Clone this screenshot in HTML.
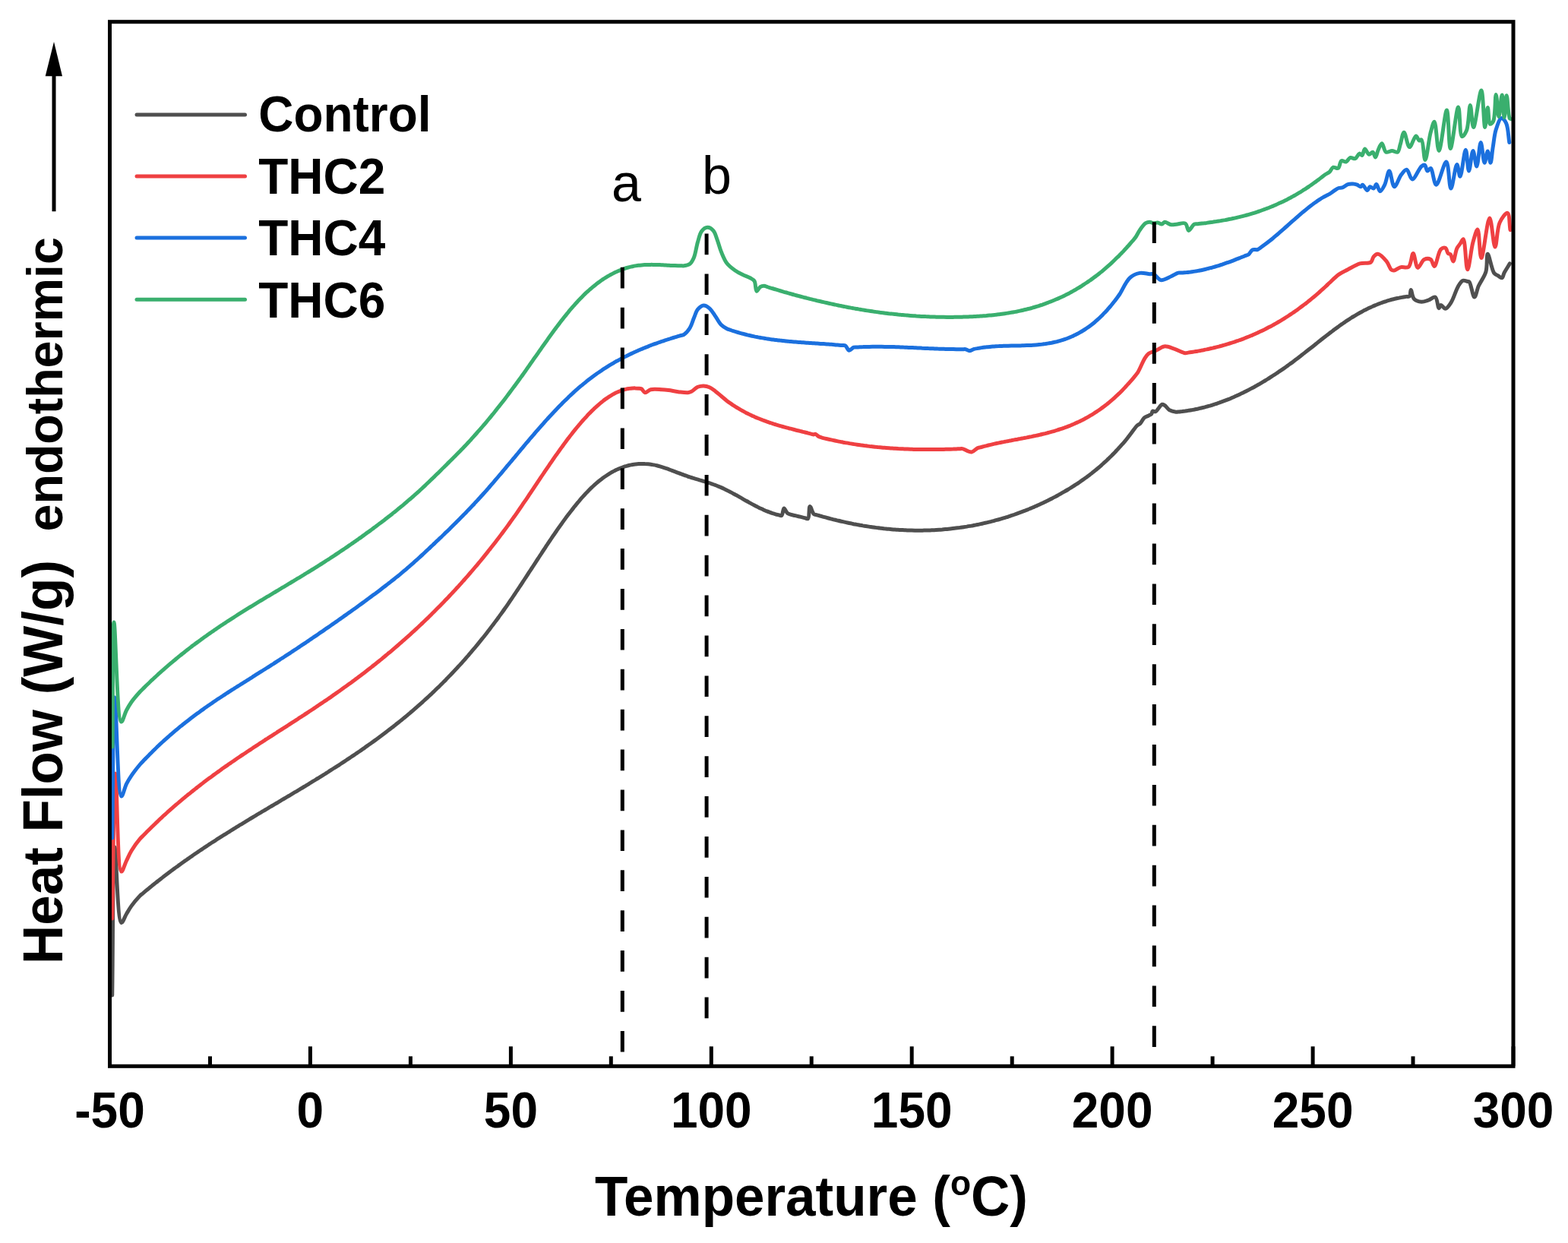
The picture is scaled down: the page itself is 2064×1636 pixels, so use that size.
<!DOCTYPE html>
<html><head><meta charset="utf-8"><title>DSC Heat Flow</title>
<style>html,body{margin:0;padding:0;background:#fff;overflow:hidden;width:2064px;height:1636px;}svg{display:block;}</style>
</head><body>
<svg width="2064" height="1636" viewBox="0 0 2064 1636">
<rect width="2064" height="1636" fill="#fff"/>
<g fill="none" stroke-linejoin="round" stroke-linecap="round" stroke-width="5.0">
<path stroke="#4f4f4f" d="M147.7 1310.0C148.8 1245.0 148.2 1115.1 151.0 1115.0C153.0 1114.9 154.4 1213.3 159.7 1214.5C161.6 1214.9 164.1 1206.7 166.4 1203.0C168.6 1199.4 170.4 1196.0 173.0 1192.4C176.1 1188.1 181.1 1182.1 184.0 1179.2C185.6 1177.6 186.7 1176.9 188.0 1175.8C189.3 1174.7 190.7 1173.5 192.0 1172.4C193.3 1171.3 194.7 1170.2 196.0 1169.2C197.3 1168.1 198.7 1167.0 200.0 1165.9C201.4 1164.8 202.7 1163.8 204.0 1162.7C205.4 1161.6 206.7 1160.6 208.0 1159.5C209.4 1158.5 210.7 1157.4 212.0 1156.4C213.4 1155.4 214.7 1154.3 216.0 1153.3C217.4 1152.3 218.7 1151.3 220.0 1150.3C221.4 1149.3 222.7 1148.2 224.0 1147.2C225.4 1146.2 226.7 1145.3 228.0 1144.3C229.4 1143.3 230.7 1142.3 232.1 1141.3C233.4 1140.4 234.7 1139.4 236.1 1138.4C237.4 1137.5 238.7 1136.5 240.1 1135.5C241.4 1134.6 242.7 1133.6 244.1 1132.7C245.4 1131.8 246.7 1130.8 248.1 1129.9C249.4 1128.9 250.7 1128.0 252.1 1127.1C253.4 1126.2 254.7 1125.3 256.1 1124.3C257.4 1123.4 258.7 1122.5 260.1 1121.6C261.4 1120.7 262.7 1119.8 264.1 1118.9C265.4 1118.0 266.8 1117.1 268.1 1116.2C269.4 1115.3 270.8 1114.5 272.1 1113.6C273.4 1112.7 274.8 1111.8 276.1 1110.9C277.4 1110.1 278.8 1109.2 280.1 1108.3C281.4 1107.5 282.8 1106.6 284.1 1105.8C285.4 1104.9 286.8 1104.0 288.1 1103.2C289.4 1102.3 290.8 1101.5 292.1 1100.6C293.4 1099.8 294.8 1099.0 296.1 1098.1C297.5 1097.3 298.8 1096.4 300.1 1095.6C301.5 1094.8 302.8 1093.9 304.1 1093.1C305.5 1092.3 306.8 1091.5 308.1 1090.6C309.5 1089.8 310.8 1089.0 312.1 1088.2C313.5 1087.4 314.8 1086.5 316.1 1085.7C317.5 1084.9 318.8 1084.1 320.1 1083.3C321.5 1082.5 322.8 1081.7 324.1 1080.9C325.5 1080.0 326.8 1079.2 328.2 1078.4C329.5 1077.6 330.8 1076.8 332.2 1076.0C333.5 1075.2 334.8 1074.4 336.2 1073.6C337.5 1072.8 338.8 1072.0 340.2 1071.2C341.5 1070.4 342.8 1069.6 344.2 1068.8C345.5 1068.1 346.8 1067.3 348.2 1066.5C349.5 1065.7 350.8 1064.9 352.2 1064.1C353.5 1063.3 354.8 1062.5 356.2 1061.7C357.5 1060.9 358.9 1060.1 360.2 1059.3C361.5 1058.5 362.9 1057.8 364.2 1057.0C365.5 1056.2 366.9 1055.4 368.2 1054.6C369.5 1053.8 370.9 1053.0 372.2 1052.2C373.5 1051.4 374.9 1050.6 376.2 1049.8C377.5 1049.0 378.9 1048.3 380.2 1047.5C381.5 1046.7 382.9 1045.9 384.2 1045.1C385.5 1044.3 386.9 1043.5 388.2 1042.7C389.6 1041.9 390.9 1041.1 392.2 1040.3C393.6 1039.5 394.9 1038.7 396.2 1037.9C397.6 1037.1 398.9 1036.3 400.2 1035.5C401.6 1034.7 402.9 1033.9 404.2 1033.1C405.6 1032.3 406.9 1031.4 408.2 1030.6C409.6 1029.8 410.9 1029.0 412.2 1028.2C413.6 1027.4 414.9 1026.6 416.2 1025.7C417.6 1024.9 418.9 1024.1 420.3 1023.3C421.6 1022.4 422.9 1021.6 424.3 1020.8C425.6 1020.0 426.9 1019.1 428.3 1018.3C429.6 1017.5 430.9 1016.6 432.3 1015.8C433.6 1014.9 434.9 1014.1 436.3 1013.2C437.6 1012.4 438.9 1011.5 440.3 1010.7C441.6 1009.8 442.9 1009.0 444.3 1008.1C445.6 1007.3 446.9 1006.4 448.3 1005.5C449.6 1004.7 451.0 1003.8 452.3 1002.9C453.6 1002.0 455.0 1001.2 456.3 1000.3C457.6 999.4 459.0 998.5 460.3 997.6C461.6 996.7 463.0 995.8 464.3 994.9C465.6 994.0 467.0 993.1 468.3 992.2C469.6 991.3 471.0 990.4 472.3 989.5C473.6 988.6 475.0 987.7 476.3 986.7C477.6 985.8 479.0 984.9 480.3 983.9C481.7 983.0 483.0 982.1 484.3 981.1C485.7 980.2 487.0 979.2 488.3 978.3C489.7 977.3 491.0 976.3 492.3 975.4C493.7 974.4 495.0 973.4 496.3 972.5C497.7 971.5 499.0 970.5 500.3 969.5C501.7 968.5 503.0 967.5 504.3 966.5C505.7 965.5 507.0 964.5 508.3 963.5C509.7 962.5 511.0 961.5 512.3 960.4C513.7 959.4 515.0 958.4 516.4 957.3C517.7 956.3 519.0 955.2 520.4 954.2C521.7 953.1 523.0 952.1 524.4 951.0C525.7 949.9 527.0 948.9 528.4 947.8C529.7 946.7 531.0 945.6 532.4 944.5C533.7 943.4 535.0 942.3 536.4 941.2C537.7 940.1 539.0 939.0 540.4 937.8C541.7 936.7 543.1 935.6 544.4 934.4C545.7 933.3 547.1 932.1 548.4 930.9C549.7 929.8 551.1 928.6 552.4 927.4C553.7 926.2 555.1 925.0 556.4 923.8C557.7 922.6 559.1 921.4 560.4 920.2C561.7 919.0 563.1 917.7 564.4 916.5C565.7 915.3 567.1 914.0 568.4 912.8C569.7 911.5 571.1 910.2 572.4 908.9C573.8 907.7 575.1 906.4 576.4 905.1C577.8 903.8 579.1 902.5 580.4 901.1C581.8 899.8 583.1 898.5 584.4 897.1C585.8 895.8 587.1 894.4 588.4 893.1C589.8 891.7 591.1 890.3 592.4 888.9C593.8 887.5 595.1 886.1 596.4 884.7C597.8 883.3 599.1 881.9 600.4 880.4C601.8 879.0 603.1 877.5 604.4 876.1C605.8 874.6 607.1 873.1 608.5 871.7C609.8 870.2 611.1 868.7 612.5 867.2C613.8 865.6 615.1 864.1 616.5 862.6C617.8 861.0 619.1 859.5 620.5 857.9C621.8 856.3 623.1 854.8 624.5 853.2C625.8 851.6 627.1 850.0 628.5 848.3C629.8 846.7 631.1 845.1 632.5 843.4C633.8 841.8 635.2 840.1 636.5 838.5C637.8 836.8 639.2 835.1 640.5 833.4C641.8 831.7 643.2 829.9 644.5 828.2C645.8 826.5 647.2 824.7 648.5 822.9C649.8 821.2 651.2 819.4 652.5 817.6C653.8 815.8 655.2 814.0 656.5 812.2C657.8 810.3 659.2 808.5 660.5 806.6C661.8 804.8 663.2 802.9 664.5 801.0C665.9 799.1 667.2 797.2 668.5 795.3C669.9 793.3 671.2 791.4 672.5 789.4C673.9 787.5 675.2 785.5 676.5 783.5C677.9 781.5 679.2 779.5 680.5 777.5C681.9 775.5 683.2 773.5 684.5 771.5C685.9 769.5 687.2 767.4 688.5 765.4C689.9 763.4 691.2 761.3 692.5 759.3C693.9 757.2 695.2 755.2 696.5 753.1C697.9 751.1 699.2 749.0 700.6 747.0C701.9 744.9 703.2 742.9 704.6 740.8C705.9 738.8 707.2 736.7 708.6 734.7C709.9 732.6 711.2 730.6 712.6 728.6C713.9 726.5 715.2 724.5 716.6 722.5C717.9 720.5 719.2 718.4 720.6 716.4C721.9 714.4 723.2 712.4 724.6 710.5C725.9 708.5 727.2 706.5 728.6 704.6C729.9 702.6 731.2 700.7 732.6 698.7C733.9 696.8 735.2 694.9 736.6 693.0C737.9 691.1 739.3 689.3 740.6 687.4C741.9 685.6 743.3 683.7 744.6 681.9C745.9 680.1 747.3 678.3 748.6 676.6C749.9 674.8 751.3 673.1 752.6 671.4C753.9 669.7 755.3 668.0 756.6 666.3C757.9 664.7 759.3 663.0 760.6 661.4C761.9 659.8 763.3 658.3 764.6 656.7C765.9 655.2 767.3 653.7 768.6 652.2C769.9 650.8 771.3 649.3 772.6 647.9C774.0 646.5 775.3 645.2 776.6 643.8C778.0 642.5 779.3 641.2 780.6 640.0C782.0 638.7 783.3 637.5 784.6 636.4C786.0 635.2 787.3 634.1 788.6 633.0C790.0 631.9 791.3 630.9 792.6 629.9C794.0 628.9 795.3 627.9 796.7 627.0C798.0 626.1 799.3 625.2 800.7 624.3C802.0 623.5 803.3 622.7 804.7 621.9C806.0 621.2 807.3 620.4 808.7 619.8C810.0 619.1 811.3 618.4 812.7 617.8C814.0 617.2 815.3 616.6 816.7 616.1C818.0 615.6 819.3 615.1 820.7 614.6C822.0 614.2 823.3 613.7 824.7 613.4C826.0 613.0 827.3 612.6 828.7 612.3C830.0 612.0 831.4 611.8 832.7 611.5C834.0 611.3 835.4 611.1 836.7 610.9C838.0 610.8 839.4 610.7 840.7 610.6C842.0 610.5 843.4 610.4 844.7 610.4C846.0 610.4 847.4 610.4 848.7 610.5C850.0 610.5 851.4 610.6 852.7 610.8C854.0 610.9 855.4 611.0 856.7 611.2C858.1 611.4 859.4 611.7 860.7 611.9C862.1 612.2 863.4 612.5 864.7 612.8C866.1 613.1 867.4 613.5 868.7 613.9C870.1 614.3 871.4 614.7 872.7 615.1C874.1 615.5 875.4 615.9 876.7 616.4C878.1 616.9 879.4 617.3 880.7 617.8C882.1 618.3 883.4 618.8 884.7 619.3C886.1 619.8 887.4 620.3 888.8 620.8C890.1 621.3 891.4 621.8 892.8 622.4C894.1 622.9 895.4 623.4 896.8 623.9C898.1 624.4 899.4 624.9 900.8 625.4C902.1 625.9 903.4 626.3 904.8 626.8C906.1 627.3 907.4 627.7 908.8 628.1C910.1 628.6 911.4 629.0 912.8 629.4C914.1 629.8 915.4 630.2 916.8 630.6C918.1 631.0 919.5 631.4 920.8 631.8C922.1 632.2 923.5 632.6 924.8 633.0C926.1 633.4 927.5 633.8 928.8 634.2C930.1 634.6 931.5 635.0 932.8 635.5C934.1 635.9 935.5 636.3 936.8 636.8C938.1 637.3 939.5 637.7 940.8 638.2C942.1 638.7 943.5 639.2 944.8 639.8C946.1 640.3 947.5 640.9 948.8 641.4C950.2 642.0 951.5 642.6 952.8 643.3C954.2 643.9 955.5 644.6 956.8 645.2C958.2 645.9 959.5 646.6 960.8 647.3C962.2 648.0 963.5 648.7 964.8 649.4C966.2 650.1 967.5 650.9 968.8 651.6C970.2 652.3 971.5 653.1 972.8 653.8C974.2 654.6 975.5 655.4 976.8 656.1C978.2 656.9 979.5 657.6 980.8 658.4C982.2 659.1 983.5 659.9 984.9 660.6C986.2 661.4 987.5 662.1 988.9 662.9C990.2 663.6 991.5 664.3 992.9 665.0C994.2 665.7 995.5 666.4 996.9 667.1C998.2 667.8 999.5 668.4 1000.9 669.1C1002.2 669.7 1003.5 670.3 1004.9 670.9C1006.2 671.5 1007.5 672.1 1008.9 672.7C1010.2 673.2 1011.5 673.7 1012.9 674.2C1014.2 674.7 1015.5 675.2 1016.9 675.6C1018.2 676.0 1019.6 676.4 1020.9 676.8C1022.2 677.2 1023.6 677.5 1024.9 677.8C1026.2 678.1 1027.8 679.1 1028.9 678.5C1030.6 677.5 1030.6 669.2 1032.0 669.0C1033.2 668.8 1034.4 673.8 1036.6 675.4C1039.2 677.3 1043.3 677.7 1046.9 678.7C1050.9 679.8 1056.7 681.1 1059.7 681.8C1061.4 682.2 1062.6 683.3 1063.6 682.6C1065.6 681.2 1064.6 666.6 1066.1 666.4C1067.4 666.2 1069.3 674.9 1071.3 676.6C1072.5 677.6 1074.0 677.4 1075.3 677.8C1076.7 678.2 1078.0 678.6 1079.4 679.0C1080.7 679.3 1082.0 679.7 1083.4 680.1C1084.7 680.5 1086.1 680.8 1087.4 681.2C1088.7 681.6 1090.1 681.9 1091.4 682.3C1092.8 682.6 1094.1 683.0 1095.5 683.3C1096.8 683.7 1098.1 684.0 1099.5 684.3C1100.8 684.6 1102.2 685.0 1103.5 685.3C1104.9 685.6 1106.2 685.9 1107.5 686.2C1108.9 686.5 1110.2 686.8 1111.6 687.1C1112.9 687.4 1114.2 687.7 1115.6 688.0C1116.9 688.3 1118.3 688.6 1119.6 688.8C1121.0 689.1 1122.3 689.4 1123.6 689.7C1125.0 689.9 1126.3 690.2 1127.7 690.4C1129.0 690.7 1130.4 690.9 1131.7 691.2C1133.0 691.4 1134.4 691.6 1135.7 691.9C1137.1 692.1 1138.4 692.3 1139.8 692.5C1141.1 692.7 1142.4 692.9 1143.8 693.1C1145.1 693.4 1146.5 693.5 1147.8 693.7C1149.1 693.9 1150.5 694.1 1151.8 694.3C1153.2 694.5 1154.5 694.7 1155.9 694.8C1157.2 695.0 1158.5 695.1 1159.9 695.3C1161.2 695.5 1162.6 695.6 1163.9 695.8C1165.3 695.9 1166.6 696.0 1167.9 696.2C1169.3 696.3 1170.6 696.4 1172.0 696.5C1173.3 696.7 1174.6 696.8 1176.0 696.9C1177.3 697.0 1178.7 697.1 1180.0 697.2C1181.4 697.3 1182.7 697.3 1184.0 697.4C1185.4 697.5 1186.7 697.6 1188.1 697.6C1189.4 697.7 1190.8 697.8 1192.1 697.8C1193.4 697.9 1194.8 697.9 1196.1 698.0C1197.5 698.0 1198.8 698.1 1200.1 698.1C1201.5 698.1 1202.8 698.1 1204.2 698.2C1205.5 698.2 1206.9 698.2 1208.2 698.2C1209.5 698.2 1210.9 698.2 1212.2 698.2C1213.6 698.2 1214.9 698.1 1216.3 698.1C1217.6 698.1 1218.9 698.1 1220.3 698.0C1221.6 698.0 1223.0 697.9 1224.3 697.9C1225.6 697.8 1227.0 697.8 1228.3 697.7C1229.7 697.7 1231.0 697.6 1232.4 697.5C1233.7 697.4 1235.0 697.3 1236.4 697.2C1237.7 697.2 1239.1 697.1 1240.4 697.0C1241.8 696.8 1243.1 696.7 1244.4 696.6C1245.8 696.5 1247.1 696.4 1248.5 696.2C1249.8 696.1 1251.1 696.0 1252.5 695.8C1253.8 695.7 1255.2 695.5 1256.5 695.3C1257.9 695.2 1259.2 695.0 1260.5 694.8C1261.9 694.7 1263.2 694.5 1264.6 694.3C1265.9 694.1 1267.3 693.9 1268.6 693.7C1269.9 693.5 1271.3 693.3 1272.6 693.1C1274.0 692.8 1275.3 692.6 1276.7 692.4C1278.0 692.2 1279.3 691.9 1280.7 691.7C1282.0 691.4 1283.4 691.2 1284.7 690.9C1286.0 690.6 1287.4 690.4 1288.7 690.1C1290.1 689.8 1291.4 689.5 1292.8 689.2C1294.1 688.9 1295.4 688.6 1296.8 688.3C1298.1 688.0 1299.5 687.7 1300.8 687.4C1302.2 687.1 1303.5 686.7 1304.8 686.4C1306.2 686.0 1307.5 685.7 1308.9 685.3C1310.2 685.0 1311.5 684.6 1312.9 684.2C1314.2 683.9 1315.6 683.5 1316.9 683.1C1318.3 682.7 1319.6 682.3 1320.9 681.9C1322.3 681.5 1323.6 681.1 1325.0 680.7C1326.3 680.3 1327.7 679.8 1329.0 679.4C1330.3 678.9 1331.7 678.5 1333.0 678.0C1334.4 677.6 1335.7 677.1 1337.0 676.7C1338.4 676.2 1339.7 675.7 1341.1 675.2C1342.4 674.7 1343.8 674.2 1345.1 673.7C1346.4 673.2 1347.8 672.7 1349.1 672.2C1350.5 671.6 1351.8 671.1 1353.2 670.6C1354.5 670.0 1355.8 669.5 1357.2 668.9C1358.5 668.3 1359.9 667.8 1361.2 667.2C1362.5 666.6 1363.9 666.0 1365.2 665.4C1366.6 664.8 1367.9 664.2 1369.3 663.6C1370.6 663.0 1371.9 662.3 1373.3 661.7C1374.6 661.0 1376.0 660.4 1377.3 659.7C1378.7 659.1 1380.0 658.4 1381.3 657.7C1382.7 657.1 1384.0 656.4 1385.4 655.7C1386.7 655.0 1388.1 654.3 1389.4 653.6C1390.7 652.8 1392.1 652.1 1393.4 651.4C1394.8 650.6 1396.1 649.9 1397.4 649.1C1398.8 648.4 1400.1 647.6 1401.5 646.8C1402.8 646.1 1404.2 645.3 1405.5 644.5C1406.8 643.7 1408.2 642.8 1409.5 642.0C1410.9 641.2 1412.2 640.3 1413.5 639.5C1414.9 638.6 1416.2 637.8 1417.6 636.9C1418.9 636.0 1420.3 635.1 1421.6 634.2C1422.9 633.2 1424.3 632.3 1425.6 631.4C1427.0 630.4 1428.3 629.4 1429.7 628.5C1431.0 627.5 1432.3 626.5 1433.7 625.5C1435.0 624.4 1436.4 623.4 1437.7 622.3C1439.1 621.3 1440.4 620.2 1441.7 619.1C1443.1 618.0 1444.4 616.9 1445.8 615.8C1447.1 614.6 1448.5 613.5 1449.8 612.3C1451.1 611.1 1452.5 609.9 1453.8 608.7C1455.2 607.4 1456.5 606.2 1457.8 604.9C1459.2 603.6 1460.5 602.3 1461.9 601.0C1463.2 599.7 1464.6 598.4 1465.9 597.0C1467.2 595.6 1468.6 594.2 1469.9 592.8C1471.3 591.4 1472.6 589.9 1473.9 588.4C1475.3 587.0 1476.6 585.5 1478.0 583.9C1479.3 582.4 1480.5 581.1 1482.0 579.2C1484.1 576.6 1486.9 572.9 1489.3 569.7C1491.8 566.5 1494.4 562.4 1496.7 560.2C1498.2 558.8 1499.7 558.6 1501.1 557.2C1502.9 555.4 1504.2 551.6 1506.2 549.9C1507.9 548.4 1510.3 547.9 1512.0 547.0C1513.4 546.2 1514.9 545.8 1515.8 544.8C1516.6 543.8 1516.3 541.6 1517.2 541.1C1518.0 540.6 1519.5 542.2 1520.9 541.8C1523.4 541.0 1527.2 532.9 1529.7 532.3C1531.1 532.0 1532.1 532.9 1533.4 533.7C1535.2 534.9 1536.9 538.2 1539.2 539.6C1541.7 541.1 1545.6 541.9 1548.0 542.2C1549.6 542.4 1550.7 542.0 1552.0 541.9C1553.4 541.8 1554.7 541.6 1556.1 541.5C1557.4 541.3 1558.8 541.1 1560.1 541.0C1561.5 540.8 1562.8 540.6 1564.2 540.4C1565.5 540.2 1566.9 540.0 1568.2 539.7C1569.6 539.5 1570.9 539.2 1572.3 539.0C1573.6 538.7 1575.0 538.4 1576.3 538.2C1577.7 537.9 1579.0 537.6 1580.4 537.2C1581.7 536.9 1583.1 536.6 1584.4 536.3C1585.8 535.9 1587.1 535.6 1588.4 535.2C1589.8 534.8 1591.1 534.4 1592.5 534.1C1593.8 533.7 1595.2 533.3 1596.5 532.8C1597.9 532.4 1599.2 532.0 1600.6 531.5C1601.9 531.1 1603.3 530.6 1604.6 530.2C1606.0 529.7 1607.3 529.2 1608.7 528.7C1610.0 528.2 1611.4 527.7 1612.7 527.2C1614.1 526.7 1615.4 526.2 1616.8 525.6C1618.1 525.1 1619.5 524.5 1620.8 523.9C1622.2 523.4 1623.5 522.8 1624.8 522.2C1626.2 521.6 1627.5 521.0 1628.9 520.4C1630.2 519.8 1631.6 519.1 1632.9 518.5C1634.3 517.9 1635.6 517.2 1637.0 516.6C1638.3 515.9 1639.7 515.2 1641.0 514.5C1642.4 513.8 1643.7 513.2 1645.1 512.4C1646.4 511.7 1647.8 511.0 1649.1 510.3C1650.5 509.6 1651.8 508.8 1653.2 508.1C1654.5 507.3 1655.9 506.5 1657.2 505.8C1658.6 505.0 1659.9 504.2 1661.3 503.4C1662.6 502.6 1664.0 501.8 1665.3 501.0C1666.6 500.2 1668.0 499.3 1669.3 498.5C1670.7 497.7 1672.0 496.8 1673.4 495.9C1674.7 495.1 1676.1 494.2 1677.4 493.3C1678.8 492.4 1680.1 491.6 1681.5 490.7C1682.8 489.7 1684.2 488.8 1685.5 487.9C1686.9 487.0 1688.2 486.1 1689.6 485.1C1690.9 484.2 1692.3 483.2 1693.6 482.3C1695.0 481.3 1696.3 480.3 1697.7 479.3C1699.0 478.3 1700.4 477.4 1701.7 476.4C1703.1 475.3 1704.4 474.3 1705.7 473.3C1707.1 472.3 1708.4 471.3 1709.8 470.2C1711.1 469.2 1712.5 468.1 1713.8 467.1C1715.2 466.1 1716.5 465.0 1717.9 463.9C1719.2 462.9 1720.6 461.8 1721.9 460.8C1723.3 459.7 1724.6 458.6 1726.0 457.6C1727.3 456.5 1728.7 455.4 1730.0 454.4C1731.4 453.3 1732.7 452.2 1734.1 451.1C1735.4 450.1 1736.8 449.0 1738.1 448.0C1739.5 446.9 1740.8 445.8 1742.1 444.8C1743.5 443.7 1744.8 442.7 1746.2 441.6C1747.5 440.6 1748.9 439.6 1750.2 438.5C1751.6 437.5 1752.9 436.5 1754.3 435.5C1755.6 434.4 1757.0 433.4 1758.3 432.4C1759.7 431.5 1761.0 430.5 1762.4 429.5C1763.7 428.5 1765.1 427.6 1766.4 426.6C1767.8 425.7 1769.1 424.7 1770.5 423.8C1771.8 422.9 1773.2 422.0 1774.5 421.1C1775.8 420.2 1777.2 419.4 1778.5 418.5C1779.9 417.6 1781.2 416.8 1782.6 416.0C1783.9 415.2 1785.3 414.4 1786.6 413.6C1788.0 412.8 1789.3 412.1 1790.7 411.3C1792.0 410.6 1793.4 409.8 1794.7 409.1C1796.1 408.4 1797.4 407.7 1798.8 407.1C1800.1 406.4 1801.5 405.7 1802.8 405.1C1804.2 404.5 1805.5 403.9 1806.9 403.3C1808.2 402.7 1809.6 402.1 1810.9 401.5C1812.3 401.0 1813.6 400.4 1815.0 399.9C1816.3 399.4 1817.6 398.9 1819.0 398.4C1820.3 397.9 1821.7 397.4 1823.0 397.0C1824.4 396.6 1825.7 396.1 1827.1 395.7C1828.4 395.3 1829.8 394.9 1831.1 394.5C1832.5 394.2 1833.8 393.8 1835.2 393.5C1836.5 393.2 1837.9 392.8 1839.2 392.5C1840.6 392.3 1841.9 392.0 1843.3 391.7C1844.6 391.5 1846.0 391.2 1847.3 391.0C1848.7 390.8 1850.0 390.6 1851.4 390.4C1852.7 390.2 1854.4 390.8 1855.4 389.9C1856.8 388.6 1856.4 381.5 1857.2 381.4C1858.2 381.3 1858.8 390.9 1861.4 393.5C1863.7 395.9 1867.8 397.0 1871.1 397.2C1874.3 397.4 1877.7 395.8 1880.8 394.8C1883.8 393.8 1887.2 390.1 1889.3 391.1C1892.1 392.3 1892.6 405.5 1894.1 405.7C1895.0 405.8 1895.4 401.6 1896.6 401.4C1898.1 401.1 1900.6 406.4 1902.6 406.3C1905.0 406.1 1907.6 401.9 1909.9 398.4C1913.4 393.1 1916.4 381.8 1919.6 376.6C1921.6 373.3 1923.3 370.1 1925.6 369.3C1927.4 368.6 1930.1 370.2 1931.7 370.5C1932.7 370.7 1933.3 370.4 1934.1 371.1C1936.4 373.2 1938.6 391.1 1940.8 391.1C1942.7 391.1 1944.0 381.7 1946.2 376.6C1948.8 370.7 1953.9 364.6 1955.9 357.8C1958.0 350.6 1956.6 334.4 1958.3 334.2C1960.1 334.0 1963.5 355.4 1966.8 359.6C1968.3 361.6 1970.0 361.7 1971.7 362.7C1973.4 363.7 1975.7 366.2 1977.1 365.7C1978.6 365.2 1978.8 361.5 1980.1 359.0C1981.9 355.5 1985.0 350.9 1987.4 346.9"/>
<path stroke="#ef4042" d="M147.7 1209.0C149.1 1145.3 149.6 1018.0 152.0 1018.0C153.9 1018.0 154.3 1145.9 159.7 1147.0C161.6 1147.4 164.2 1137.6 166.4 1133.0C168.6 1128.5 170.3 1124.3 173.0 1119.8C176.0 1114.7 181.1 1107.8 184.0 1104.4C185.6 1102.5 186.7 1101.6 188.0 1100.2C189.3 1098.9 190.7 1097.5 192.0 1096.2C193.3 1094.8 194.7 1093.5 196.0 1092.2C197.3 1090.9 198.7 1089.5 200.0 1088.2C201.3 1086.9 202.7 1085.7 204.0 1084.4C205.3 1083.1 206.7 1081.8 208.0 1080.6C209.3 1079.3 210.7 1078.1 212.0 1076.8C213.3 1075.6 214.7 1074.4 216.0 1073.1C217.3 1071.9 218.7 1070.7 220.0 1069.5C221.3 1068.3 222.7 1067.1 224.0 1065.9C225.3 1064.7 226.7 1063.6 228.0 1062.4C229.4 1061.2 230.7 1060.1 232.0 1058.9C233.4 1057.8 234.7 1056.7 236.0 1055.5C237.4 1054.4 238.7 1053.3 240.0 1052.2C241.4 1051.0 242.7 1049.9 244.0 1048.8C245.4 1047.7 246.7 1046.6 248.0 1045.6C249.4 1044.5 250.7 1043.4 252.0 1042.3C253.4 1041.3 254.7 1040.2 256.0 1039.2C257.4 1038.1 258.7 1037.1 260.0 1036.0C261.4 1035.0 262.7 1033.9 264.0 1032.9C265.4 1031.9 266.7 1030.9 268.0 1029.8C269.4 1028.8 270.7 1027.8 272.0 1026.8C273.4 1025.8 274.7 1024.8 276.0 1023.8C277.4 1022.9 278.7 1021.9 280.0 1020.9C281.4 1019.9 282.7 1018.9 284.0 1018.0C285.4 1017.0 286.7 1016.0 288.0 1015.1C289.4 1014.1 290.7 1013.2 292.0 1012.2C293.4 1011.3 294.7 1010.3 296.1 1009.4C297.4 1008.5 298.7 1007.5 300.1 1006.6C301.4 1005.7 302.7 1004.7 304.1 1003.8C305.4 1002.9 306.7 1002.0 308.1 1001.1C309.4 1000.2 310.7 999.3 312.1 998.3C313.4 997.4 314.7 996.5 316.1 995.6C317.4 994.7 318.7 993.8 320.1 993.0C321.4 992.1 322.7 991.2 324.1 990.3C325.4 989.4 326.7 988.5 328.1 987.6C329.4 986.8 330.7 985.9 332.1 985.0C333.4 984.1 334.7 983.2 336.1 982.4C337.4 981.5 338.7 980.6 340.1 979.8C341.4 978.9 342.7 978.0 344.1 977.2C345.4 976.3 346.7 975.4 348.1 974.6C349.4 973.7 350.7 972.9 352.1 972.0C353.4 971.1 354.7 970.3 356.1 969.4C357.4 968.6 358.7 967.7 360.1 966.8C361.4 966.0 362.7 965.1 364.1 964.3C365.4 963.4 366.7 962.6 368.1 961.7C369.4 960.9 370.8 960.0 372.1 959.1C373.4 958.3 374.8 957.4 376.1 956.6C377.4 955.7 378.8 954.9 380.1 954.0C381.4 953.2 382.8 952.3 384.1 951.4C385.4 950.6 386.8 949.7 388.1 948.9C389.4 948.0 390.8 947.1 392.1 946.3C393.4 945.4 394.8 944.5 396.1 943.7C397.4 942.8 398.8 941.9 400.1 941.1C401.4 940.2 402.8 939.3 404.1 938.5C405.4 937.6 406.8 936.7 408.1 935.8C409.4 934.9 410.8 934.1 412.1 933.2C413.4 932.3 414.8 931.4 416.1 930.5C417.4 929.6 418.8 928.7 420.1 927.8C421.4 926.9 422.8 926.0 424.1 925.1C425.4 924.2 426.8 923.3 428.1 922.4C429.4 921.5 430.8 920.6 432.1 919.7C433.4 918.8 434.8 917.9 436.1 916.9C437.4 916.0 438.8 915.1 440.1 914.1C441.5 913.2 442.8 912.3 444.1 911.3C445.5 910.4 446.8 909.4 448.1 908.5C449.5 907.6 450.8 906.6 452.1 905.6C453.5 904.7 454.8 903.7 456.1 902.8C457.5 901.8 458.8 900.8 460.1 899.8C461.5 898.9 462.8 897.9 464.1 896.9C465.5 895.9 466.8 894.9 468.1 893.9C469.5 892.9 470.8 891.9 472.1 890.9C473.5 889.9 474.8 888.9 476.1 887.9C477.5 886.9 478.8 885.9 480.1 884.9C481.5 883.8 482.8 882.8 484.1 881.8C485.5 880.7 486.8 879.7 488.1 878.7C489.5 877.6 490.8 876.6 492.1 875.5C493.5 874.4 494.8 873.4 496.1 872.3C497.5 871.2 498.8 870.2 500.1 869.1C501.5 868.0 502.8 866.9 504.1 865.8C505.5 864.7 506.8 863.6 508.1 862.5C509.5 861.4 510.8 860.3 512.1 859.2C513.5 858.1 514.8 857.0 516.2 855.8C517.5 854.7 518.8 853.6 520.2 852.4C521.5 851.3 522.8 850.2 524.2 849.0C525.5 847.8 526.8 846.7 528.2 845.5C529.5 844.3 530.8 843.2 532.2 842.0C533.5 840.8 534.8 839.6 536.2 838.4C537.5 837.2 538.8 836.0 540.2 834.8C541.5 833.6 542.8 832.4 544.2 831.2C545.5 829.9 546.8 828.7 548.2 827.5C549.5 826.2 550.8 825.0 552.2 823.7C553.5 822.5 554.8 821.2 556.2 820.0C557.5 818.7 558.8 817.4 560.2 816.1C561.5 814.8 562.8 813.6 564.2 812.3C565.5 811.0 566.8 809.6 568.2 808.3C569.5 807.0 570.8 805.7 572.2 804.4C573.5 803.0 574.8 801.7 576.2 800.3C577.5 799.0 578.8 797.6 580.2 796.3C581.5 794.9 582.9 793.5 584.2 792.2C585.5 790.8 586.9 789.4 588.2 788.0C589.5 786.6 590.9 785.2 592.2 783.8C593.5 782.4 594.9 780.9 596.2 779.5C597.5 778.1 598.9 776.6 600.2 775.2C601.5 773.7 602.9 772.3 604.2 770.8C605.5 769.3 606.9 767.8 608.2 766.3C609.5 764.9 610.9 763.4 612.2 761.8C613.5 760.3 614.9 758.8 616.2 757.3C617.5 755.8 618.9 754.2 620.2 752.7C621.5 751.1 622.9 749.6 624.2 748.0C625.5 746.4 626.9 744.9 628.2 743.3C629.5 741.7 630.9 740.1 632.2 738.5C633.5 736.8 634.9 735.2 636.2 733.6C637.5 732.0 638.9 730.3 640.2 728.7C641.5 727.0 642.9 725.3 644.2 723.6C645.5 722.0 646.9 720.3 648.2 718.6C649.5 716.9 650.9 715.1 652.2 713.4C653.5 711.7 654.9 709.9 656.2 708.2C657.6 706.4 658.9 704.7 660.2 702.9C661.6 701.1 662.9 699.3 664.2 697.5C665.6 695.7 666.9 693.9 668.2 692.1C669.6 690.2 670.9 688.4 672.2 686.5C673.6 684.7 674.9 682.8 676.2 680.9C677.6 679.1 678.9 677.2 680.2 675.3C681.6 673.3 682.9 671.4 684.2 669.5C685.6 667.5 686.9 665.6 688.2 663.6C689.6 661.7 690.9 659.7 692.2 657.8C693.6 655.8 694.9 653.8 696.2 651.8C697.6 649.8 698.9 647.9 700.2 645.9C701.6 643.9 702.9 641.9 704.2 639.9C705.6 637.9 706.9 635.9 708.2 633.9C709.6 631.9 710.9 629.9 712.2 627.9C713.6 625.9 714.9 624.0 716.2 622.0C717.6 620.0 718.9 618.0 720.2 616.1C721.6 614.1 722.9 612.1 724.2 610.2C725.6 608.3 726.9 606.3 728.2 604.4C729.6 602.5 730.9 600.6 732.2 598.7C733.6 596.8 734.9 594.9 736.3 593.0C737.6 591.1 738.9 589.3 740.3 587.5C741.6 585.6 742.9 583.8 744.3 582.0C745.6 580.2 746.9 578.4 748.3 576.7C749.6 574.9 750.9 573.2 752.3 571.5C753.6 569.8 754.9 568.1 756.3 566.4C757.6 564.8 758.9 563.2 760.3 561.5C761.6 559.9 762.9 558.4 764.3 556.8C765.6 555.3 766.9 553.7 768.3 552.2C769.6 550.8 770.9 549.3 772.3 547.9C773.6 546.4 774.9 545.0 776.3 543.7C777.6 542.3 778.9 541.0 780.3 539.7C781.6 538.4 782.9 537.1 784.3 535.9C785.6 534.7 786.9 533.5 788.3 532.3C789.6 531.2 790.9 530.1 792.3 529.0C793.6 528.0 794.9 526.9 796.3 525.9C797.6 525.0 798.9 524.0 800.3 523.1C801.6 522.2 802.9 521.4 804.3 520.6C805.6 519.8 806.9 519.0 808.3 518.3C809.6 517.6 810.9 516.9 812.3 516.3C813.6 515.7 814.9 515.1 816.3 514.6C817.6 514.1 818.9 513.6 820.3 513.2C821.6 512.8 823.0 512.4 824.3 512.1C825.6 511.8 827.0 511.6 828.3 511.4C829.6 511.2 831.0 511.0 832.3 510.9C833.6 510.9 835.0 510.8 836.3 510.9C837.6 510.9 839.0 511.0 840.3 511.2C841.6 511.3 843.0 511.1 844.3 511.8C846.0 512.7 847.2 516.4 849.1 516.7C851.2 517.0 853.5 513.5 856.5 512.8C860.5 511.8 866.8 512.6 871.1 512.8C874.4 512.9 876.8 513.2 880.0 513.6C883.9 514.1 888.5 515.2 892.8 515.7C897.1 516.2 902.4 517.1 905.7 516.7C907.8 516.4 909.0 515.8 910.8 514.9C913.2 513.6 915.8 510.4 918.5 509.3C921.0 508.3 923.6 507.9 926.2 508.0C928.8 508.1 931.4 508.7 933.9 509.8C936.6 511.0 939.1 513.0 941.6 514.9C944.2 516.8 946.7 519.2 949.3 521.3C951.9 523.4 954.8 526.0 957.0 527.7C958.5 528.9 959.7 529.7 961.1 530.6C962.4 531.6 963.8 532.5 965.1 533.4C966.5 534.2 967.9 535.1 969.2 536.0C970.6 536.8 971.9 537.6 973.3 538.4C974.6 539.2 976.0 540.0 977.4 540.7C978.7 541.5 980.1 542.2 981.4 542.9C982.8 543.6 984.1 544.3 985.5 545.0C986.9 545.6 988.2 546.3 989.6 546.9C990.9 547.5 992.3 548.2 993.6 548.8C995.0 549.3 996.4 549.9 997.7 550.5C999.1 551.0 1000.4 551.6 1001.8 552.1C1003.1 552.7 1004.5 553.2 1005.9 553.7C1007.2 554.2 1008.6 554.7 1009.9 555.1C1011.3 555.6 1012.6 556.1 1014.0 556.5C1015.4 557.0 1016.7 557.4 1018.1 557.9C1019.4 558.3 1020.8 558.7 1022.1 559.1C1023.5 559.5 1024.9 559.9 1026.2 560.3C1027.6 560.7 1028.9 561.1 1030.3 561.5C1031.6 561.9 1033.0 562.2 1034.4 562.6C1035.7 563.0 1037.1 563.3 1038.4 563.7C1039.8 564.0 1041.1 564.4 1042.5 564.7C1043.9 565.1 1045.2 565.4 1046.6 565.8C1047.9 566.1 1049.3 566.4 1050.6 566.8C1052.0 567.1 1053.4 567.5 1054.7 567.8C1056.1 568.1 1057.4 568.5 1058.8 568.8C1060.1 569.1 1061.5 569.5 1062.9 569.8C1064.2 570.2 1065.6 570.5 1066.9 570.9C1068.3 571.2 1069.9 571.9 1071.0 571.9C1071.8 571.9 1072.4 571.1 1073.2 571.2C1074.5 571.4 1076.1 573.7 1077.6 574.5C1079.0 575.3 1080.6 575.7 1082.0 576.1C1083.4 576.5 1084.7 576.8 1086.0 577.1C1087.4 577.4 1088.7 577.7 1090.0 578.0C1091.4 578.3 1092.7 578.6 1094.1 578.9C1095.4 579.2 1096.7 579.5 1098.1 579.8C1099.4 580.1 1100.7 580.4 1102.1 580.6C1103.4 580.9 1104.8 581.2 1106.1 581.4C1107.4 581.7 1108.8 581.9 1110.1 582.2C1111.5 582.4 1112.8 582.7 1114.1 582.9C1115.5 583.2 1116.8 583.4 1118.2 583.6C1119.5 583.8 1120.8 584.1 1122.2 584.3C1123.5 584.5 1124.9 584.7 1126.2 584.9C1127.5 585.1 1128.9 585.3 1130.2 585.5C1131.5 585.7 1132.9 585.9 1134.2 586.1C1135.6 586.2 1136.9 586.4 1138.2 586.6C1139.6 586.8 1140.9 586.9 1142.3 587.1C1143.6 587.3 1144.9 587.4 1146.3 587.6C1147.6 587.7 1149.0 587.9 1150.3 588.0C1151.6 588.2 1153.0 588.3 1154.3 588.4C1155.7 588.6 1157.0 588.7 1158.3 588.8C1159.7 588.9 1161.0 589.1 1162.3 589.2C1163.7 589.3 1165.0 589.4 1166.4 589.5C1167.7 589.6 1169.0 589.7 1170.4 589.8C1171.7 589.9 1173.1 590.0 1174.4 590.1C1175.7 590.2 1177.1 590.3 1178.4 590.3C1179.8 590.4 1181.1 590.5 1182.4 590.6C1183.8 590.6 1185.1 590.7 1186.5 590.8C1187.8 590.8 1189.1 590.9 1190.5 590.9C1191.8 591.0 1193.1 591.1 1194.5 591.1C1195.8 591.2 1197.2 591.2 1198.5 591.2C1199.8 591.3 1201.2 591.3 1202.5 591.4C1203.9 591.4 1205.2 591.4 1206.5 591.4C1207.9 591.5 1209.2 591.5 1210.6 591.5C1211.9 591.5 1213.2 591.5 1214.6 591.6C1215.9 591.6 1217.3 591.6 1218.6 591.6C1219.9 591.6 1221.3 591.6 1222.6 591.6C1223.9 591.6 1225.3 591.6 1226.6 591.6C1228.0 591.6 1229.3 591.6 1230.6 591.6C1232.0 591.6 1233.3 591.5 1234.7 591.5C1236.0 591.5 1237.3 591.5 1238.7 591.5C1240.0 591.4 1241.4 591.4 1242.7 591.4C1244.0 591.4 1245.4 591.3 1246.7 591.3C1248.1 591.3 1249.4 591.2 1250.7 591.2C1252.1 591.1 1253.4 591.1 1254.7 591.1C1256.1 591.0 1257.4 591.0 1258.8 590.9C1260.1 590.9 1261.4 590.8 1262.8 590.8C1264.1 590.7 1265.1 590.3 1266.8 590.6C1269.8 591.1 1275.4 595.4 1278.9 595.0C1281.9 594.6 1284.4 590.9 1286.6 589.9C1288.1 589.2 1289.3 589.1 1290.7 588.7C1292.0 588.4 1293.4 588.0 1294.7 587.6C1296.1 587.3 1297.4 586.9 1298.8 586.6C1300.1 586.2 1301.5 585.9 1302.8 585.6C1304.2 585.3 1305.5 585.0 1306.9 584.6C1308.2 584.3 1309.6 584.0 1310.9 583.7C1312.3 583.4 1313.6 583.2 1315.0 582.9C1316.3 582.6 1317.7 582.3 1319.0 582.0C1320.4 581.8 1321.7 581.5 1323.1 581.2C1324.4 581.0 1325.8 580.7 1327.1 580.5C1328.5 580.2 1329.8 579.9 1331.2 579.7C1332.5 579.4 1333.9 579.2 1335.2 578.9C1336.6 578.7 1337.9 578.4 1339.3 578.2C1340.7 577.9 1342.0 577.7 1343.4 577.4C1344.7 577.1 1346.1 576.9 1347.4 576.6C1348.8 576.4 1350.1 576.1 1351.5 575.9C1352.8 575.6 1354.2 575.3 1355.5 575.0C1356.9 574.8 1358.2 574.5 1359.6 574.2C1360.9 573.9 1362.3 573.7 1363.6 573.4C1365.0 573.1 1366.3 572.8 1367.7 572.5C1369.0 572.2 1370.4 571.9 1371.7 571.5C1373.1 571.2 1374.4 570.9 1375.8 570.6C1377.1 570.2 1378.5 569.9 1379.8 569.5C1381.2 569.2 1382.5 568.8 1383.9 568.4C1385.2 568.0 1386.6 567.7 1387.9 567.3C1389.3 566.9 1390.7 566.5 1392.0 566.0C1393.4 565.6 1394.7 565.2 1396.1 564.7C1397.4 564.3 1398.8 563.8 1400.1 563.3C1401.5 562.9 1402.8 562.4 1404.2 561.9C1405.5 561.3 1406.9 560.8 1408.2 560.3C1409.6 559.7 1410.9 559.2 1412.3 558.6C1413.6 558.0 1415.0 557.5 1416.3 556.8C1417.7 556.2 1419.0 555.6 1420.4 555.0C1421.7 554.3 1423.1 553.6 1424.4 553.0C1425.8 552.3 1427.1 551.6 1428.5 550.8C1429.8 550.1 1431.2 549.4 1432.5 548.6C1433.9 547.8 1435.2 547.0 1436.6 546.2C1437.9 545.4 1439.3 544.6 1440.6 543.7C1442.0 542.8 1443.4 541.9 1444.7 541.0C1446.1 540.1 1447.4 539.2 1448.8 538.2C1450.1 537.3 1451.5 536.3 1452.8 535.3C1454.2 534.2 1455.5 533.2 1456.9 532.1C1458.2 531.0 1459.6 529.9 1460.9 528.8C1462.3 527.7 1463.6 526.5 1465.0 525.4C1466.3 524.2 1467.7 522.9 1469.0 521.7C1470.4 520.5 1471.7 519.2 1473.1 517.9C1474.4 516.6 1475.8 515.2 1477.1 513.9C1478.5 512.5 1479.8 511.1 1481.2 509.6C1482.5 508.2 1483.9 506.7 1485.2 505.2C1486.6 503.7 1487.9 502.2 1489.3 500.6C1490.7 499.0 1492.0 497.4 1493.3 495.8C1494.7 494.1 1495.9 493.0 1497.4 490.7C1500.2 486.4 1504.3 475.6 1507.2 471.1C1508.9 468.4 1509.9 466.8 1512.1 465.2C1514.6 463.4 1518.6 462.8 1521.9 461.3C1525.4 459.7 1528.7 456.3 1532.6 455.9C1536.8 455.4 1541.8 457.9 1546.3 459.3C1550.9 460.8 1556.7 464.3 1560.0 464.7C1561.7 464.9 1562.7 464.3 1564.0 464.1C1565.4 463.9 1566.7 463.7 1568.1 463.5C1569.4 463.3 1570.8 463.1 1572.1 462.9C1573.5 462.7 1574.8 462.4 1576.2 462.2C1577.5 462.0 1578.9 461.7 1580.2 461.5C1581.6 461.2 1582.9 460.9 1584.3 460.7C1585.6 460.4 1587.0 460.1 1588.3 459.9C1589.6 459.6 1591.0 459.3 1592.3 459.0C1593.7 458.7 1595.0 458.4 1596.4 458.1C1597.7 457.7 1599.1 457.4 1600.4 457.1C1601.8 456.7 1603.1 456.4 1604.5 456.1C1605.8 455.7 1607.2 455.3 1608.5 455.0C1609.9 454.6 1611.2 454.2 1612.6 453.8C1613.9 453.4 1615.2 453.0 1616.6 452.6C1617.9 452.2 1619.3 451.8 1620.6 451.4C1622.0 451.0 1623.3 450.5 1624.7 450.1C1626.0 449.6 1627.4 449.2 1628.7 448.7C1630.1 448.2 1631.4 447.8 1632.8 447.3C1634.1 446.8 1635.5 446.3 1636.8 445.8C1638.2 445.3 1639.5 444.7 1640.9 444.2C1642.2 443.7 1643.5 443.1 1644.9 442.6C1646.2 442.0 1647.6 441.5 1648.9 440.9C1650.3 440.3 1651.6 439.7 1653.0 439.1C1654.3 438.5 1655.7 437.9 1657.0 437.3C1658.4 436.7 1659.7 436.0 1661.1 435.4C1662.4 434.7 1663.8 434.1 1665.1 433.4C1666.5 432.7 1667.8 432.0 1669.1 431.3C1670.5 430.6 1671.8 429.9 1673.2 429.2C1674.5 428.5 1675.9 427.7 1677.2 427.0C1678.6 426.2 1679.9 425.5 1681.3 424.7C1682.6 423.9 1684.0 423.1 1685.3 422.3C1686.7 421.5 1688.0 420.7 1689.4 419.9C1690.7 419.0 1692.1 418.2 1693.4 417.3C1694.8 416.5 1696.1 415.6 1697.4 414.7C1698.8 413.8 1700.1 412.9 1701.5 412.0C1702.8 411.1 1704.2 410.1 1705.5 409.2C1706.9 408.3 1708.2 407.3 1709.6 406.3C1710.9 405.3 1712.3 404.3 1713.6 403.3C1715.0 402.3 1716.3 401.3 1717.7 400.3C1719.0 399.2 1720.4 398.2 1721.7 397.1C1723.1 396.0 1724.4 395.0 1725.7 393.9C1727.1 392.8 1728.4 391.6 1729.8 390.5C1731.1 389.4 1732.5 388.2 1733.8 387.1C1735.2 385.9 1736.5 384.7 1737.9 383.5C1739.2 382.3 1740.6 381.1 1741.9 379.9C1743.3 378.6 1744.6 377.4 1746.0 376.1C1747.3 374.9 1748.3 373.9 1750.0 372.3C1752.9 369.6 1757.9 364.4 1762.1 361.4C1766.0 358.7 1769.9 357.1 1774.2 354.8C1779.1 352.2 1784.7 348.5 1790.0 346.9C1794.8 345.4 1801.5 347.2 1804.5 345.1C1806.7 343.5 1806.5 339.7 1808.1 337.8C1809.6 336.1 1811.5 334.1 1813.6 334.2C1816.8 334.4 1822.1 340.3 1825.1 343.9C1827.8 347.2 1829.1 353.0 1831.2 354.8C1832.4 355.8 1833.4 356.1 1834.8 356.0C1837.1 355.8 1840.2 352.6 1843.3 351.8C1846.6 350.9 1851.5 353.3 1854.2 351.2C1857.8 348.5 1858.2 333.6 1860.2 333.6C1862.2 333.6 1863.5 351.9 1866.3 352.4C1868.6 352.8 1871.5 343.1 1874.8 341.5C1877.3 340.3 1881.0 340.2 1883.2 341.5C1885.6 342.9 1886.4 350.6 1888.1 350.5C1890.7 350.3 1893.1 331.4 1896.6 328.1C1898.4 326.4 1901.0 325.6 1902.6 326.3C1904.4 327.1 1904.8 332.3 1906.3 333.6C1907.2 334.4 1908.4 333.9 1909.3 334.8C1910.8 336.3 1911.7 344.0 1912.9 343.9C1914.5 343.8 1915.8 331.0 1917.8 326.9C1919.1 324.3 1920.6 322.9 1922.0 320.9C1923.4 318.9 1925.0 314.5 1926.2 314.8C1929.0 315.5 1929.5 354.7 1931.7 354.8C1933.8 354.9 1936.3 328.1 1939.0 318.5C1940.9 311.9 1943.4 301.9 1945.0 302.1C1947.4 302.4 1947.6 339.5 1949.9 339.6C1952.6 339.7 1957.6 287.0 1960.8 287.0C1963.5 287.0 1965.7 325.1 1968.0 325.1C1970.1 325.1 1970.4 300.9 1974.1 293.0C1976.7 287.4 1982.1 279.7 1984.4 280.3C1987.1 281.0 1986.8 295.2 1988.0 302.7"/>
<path stroke="#1b70de" d="M147.7 1103.0C148.8 1041.3 148.6 918.1 151.0 918.0C153.0 917.9 154.6 1047.2 159.8 1048.0C161.7 1048.3 164.0 1036.6 166.4 1031.8C168.5 1027.7 170.4 1024.6 173.0 1020.8C176.1 1016.3 181.2 1009.8 184.0 1006.5C185.6 1004.6 186.7 1003.6 188.0 1002.2C189.3 1000.8 190.7 999.4 192.0 998.0C193.3 996.6 194.7 995.2 196.0 993.9C197.3 992.5 198.7 991.2 200.0 989.9C201.3 988.5 202.7 987.2 204.0 985.9C205.3 984.6 206.7 983.4 208.0 982.1C209.3 980.8 210.7 979.6 212.0 978.3C213.3 977.1 214.7 975.9 216.0 974.7C217.3 973.5 218.7 972.3 220.0 971.1C221.3 969.9 222.7 968.7 224.0 967.5C225.3 966.4 226.7 965.2 228.0 964.1C229.3 963.0 230.7 961.8 232.0 960.7C233.4 959.6 234.7 958.5 236.0 957.4C237.4 956.3 238.7 955.2 240.0 954.2C241.4 953.1 242.7 952.0 244.0 951.0C245.4 949.9 246.7 948.9 248.0 947.9C249.4 946.8 250.7 945.8 252.0 944.8C253.4 943.8 254.7 942.8 256.0 941.8C257.4 940.8 258.7 939.8 260.0 938.8C261.4 937.9 262.7 936.9 264.0 935.9C265.4 935.0 266.7 934.0 268.0 933.1C269.4 932.1 270.7 931.2 272.0 930.3C273.4 929.3 274.7 928.4 276.0 927.5C277.4 926.6 278.7 925.6 280.0 924.7C281.4 923.8 282.7 922.9 284.0 922.0C285.4 921.1 286.7 920.2 288.0 919.3C289.4 918.5 290.7 917.6 292.0 916.7C293.4 915.8 294.7 915.0 296.0 914.1C297.4 913.2 298.7 912.3 300.0 911.5C301.4 910.6 302.7 909.8 304.1 908.9C305.4 908.1 306.7 907.2 308.1 906.4C309.4 905.5 310.7 904.7 312.1 903.8C313.4 903.0 314.7 902.1 316.1 901.3C317.4 900.4 318.7 899.6 320.1 898.8C321.4 897.9 322.7 897.1 324.1 896.3C325.4 895.4 326.7 894.6 328.1 893.8C329.4 892.9 330.7 892.1 332.1 891.3C333.4 890.4 334.7 889.6 336.1 888.7C337.4 887.9 338.7 887.1 340.1 886.2C341.4 885.4 342.7 884.6 344.1 883.7C345.4 882.9 346.7 882.0 348.1 881.2C349.4 880.4 350.7 879.5 352.1 878.7C353.4 877.8 354.7 877.0 356.1 876.1C357.4 875.3 358.7 874.4 360.1 873.6C361.4 872.7 362.7 871.8 364.1 871.0C365.4 870.1 366.7 869.3 368.1 868.4C369.4 867.5 370.7 866.7 372.1 865.8C373.4 865.0 374.7 864.1 376.1 863.2C377.4 862.3 378.7 861.5 380.1 860.6C381.4 859.7 382.8 858.9 384.1 858.0C385.4 857.1 386.8 856.2 388.1 855.3C389.4 854.5 390.8 853.6 392.1 852.7C393.4 851.8 394.8 850.9 396.1 850.0C397.4 849.1 398.8 848.3 400.1 847.4C401.4 846.5 402.8 845.6 404.1 844.7C405.4 843.8 406.8 842.9 408.1 842.0C409.4 841.1 410.8 840.2 412.1 839.3C413.4 838.4 414.8 837.5 416.1 836.6C417.4 835.7 418.8 834.7 420.1 833.8C421.4 832.9 422.8 832.0 424.1 831.1C425.4 830.2 426.8 829.3 428.1 828.3C429.4 827.4 430.8 826.5 432.1 825.6C433.4 824.7 434.8 823.7 436.1 822.8C437.4 821.9 438.8 820.9 440.1 820.0C441.4 819.1 442.8 818.1 444.1 817.2C445.4 816.3 446.8 815.3 448.1 814.4C449.4 813.5 450.8 812.5 452.1 811.6C453.4 810.6 454.8 809.7 456.1 808.7C457.4 807.8 458.8 806.8 460.1 805.9C461.5 804.9 462.8 804.0 464.1 803.0C465.5 802.1 466.8 801.1 468.1 800.2C469.5 799.2 470.8 798.2 472.1 797.3C473.5 796.3 474.8 795.3 476.1 794.4C477.5 793.4 478.8 792.4 480.1 791.5C481.5 790.5 482.8 789.5 484.1 788.5C485.5 787.6 486.8 786.6 488.1 785.6C489.5 784.6 490.8 783.6 492.1 782.6C493.5 781.7 494.8 780.7 496.1 779.7C497.5 778.7 498.8 777.7 500.1 776.7C501.5 775.6 502.8 774.6 504.1 773.6C505.5 772.6 506.8 771.6 508.1 770.5C509.5 769.5 510.8 768.5 512.1 767.4C513.5 766.4 514.8 765.3 516.1 764.3C517.5 763.2 518.8 762.2 520.1 761.1C521.5 760.0 522.8 758.9 524.1 757.9C525.5 756.8 526.8 755.7 528.1 754.6C529.5 753.5 530.8 752.3 532.1 751.2C533.5 750.1 534.8 749.0 536.1 747.8C537.5 746.7 538.8 745.5 540.1 744.4C541.5 743.2 542.8 742.0 544.2 740.8C545.5 739.6 546.8 738.4 548.2 737.3C549.5 736.0 550.8 734.8 552.2 733.6C553.5 732.4 554.8 731.2 556.2 730.0C557.5 728.7 558.8 727.5 560.2 726.2C561.5 725.0 562.8 723.8 564.2 722.5C565.5 721.3 566.8 720.0 568.2 718.7C569.5 717.5 570.8 716.2 572.2 715.0C573.5 713.7 574.8 712.4 576.2 711.2C577.5 709.9 578.8 708.6 580.2 707.4C581.5 706.1 582.8 704.8 584.2 703.5C585.5 702.2 586.8 700.9 588.2 699.7C589.5 698.4 590.8 697.1 592.2 695.8C593.5 694.5 594.8 693.2 596.2 691.8C597.5 690.5 598.8 689.2 600.2 687.9C601.5 686.6 602.8 685.2 604.2 683.9C605.5 682.5 606.8 681.2 608.2 679.8C609.5 678.5 610.8 677.1 612.2 675.7C613.5 674.4 614.8 673.0 616.2 671.6C617.5 670.2 618.9 668.8 620.2 667.4C621.5 666.0 622.9 664.6 624.2 663.2C625.5 661.7 626.9 660.3 628.2 658.9C629.5 657.4 630.9 655.9 632.2 654.5C633.5 653.0 634.9 651.5 636.2 650.0C637.5 648.6 638.9 647.1 640.2 645.6C641.5 644.0 642.9 642.5 644.2 641.0C645.5 639.5 646.9 637.9 648.2 636.4C649.5 634.8 650.9 633.3 652.2 631.7C653.5 630.2 654.9 628.6 656.2 627.0C657.5 625.4 658.9 623.9 660.2 622.3C661.5 620.7 662.9 619.1 664.2 617.5C665.5 615.9 666.9 614.3 668.2 612.7C669.5 611.1 670.9 609.6 672.2 608.0C673.5 606.4 674.9 604.8 676.2 603.2C677.5 601.6 678.9 600.0 680.2 598.4C681.5 596.8 682.9 595.2 684.2 593.6C685.5 592.0 686.9 590.4 688.2 588.8C689.5 587.2 690.9 585.6 692.2 584.0C693.5 582.5 694.9 580.9 696.2 579.3C697.5 577.7 698.9 576.2 700.2 574.6C701.5 573.1 702.9 571.5 704.2 570.0C705.5 568.4 706.9 566.9 708.2 565.4C709.6 563.8 710.9 562.3 712.2 560.8C713.6 559.3 714.9 557.8 716.2 556.3C717.6 554.8 718.9 553.3 720.2 551.9C721.6 550.4 722.9 548.9 724.2 547.5C725.6 546.0 726.9 544.6 728.2 543.2C729.6 541.8 730.9 540.4 732.2 539.0C733.6 537.6 734.9 536.2 736.2 534.8C737.6 533.4 738.9 532.1 740.2 530.7C741.6 529.4 742.9 528.1 744.2 526.8C745.6 525.5 746.9 524.2 748.2 522.9C749.6 521.6 750.9 520.3 752.2 519.1C753.6 517.9 754.9 516.6 756.2 515.4C757.6 514.2 758.9 513.0 760.2 511.9C761.6 510.7 762.9 509.5 764.2 508.4C765.6 507.3 766.9 506.2 768.2 505.1C769.6 504.0 770.9 502.9 772.2 501.8C773.6 500.8 774.9 499.7 776.2 498.7C777.6 497.7 778.9 496.7 780.2 495.7C781.6 494.7 782.9 493.8 784.3 492.8C785.6 491.8 786.9 490.9 788.3 490.0C789.6 489.1 790.9 488.2 792.3 487.3C793.6 486.4 794.9 485.5 796.3 484.7C797.6 483.8 798.9 483.0 800.3 482.1C801.6 481.3 802.9 480.5 804.3 479.7C805.6 478.9 806.9 478.1 808.3 477.3C809.6 476.6 810.9 475.8 812.3 475.1C813.6 474.3 814.9 473.6 816.3 472.9C817.6 472.2 818.9 471.5 820.3 470.8C821.6 470.1 822.9 469.4 824.3 468.7C825.6 468.1 826.9 467.4 828.3 466.7C829.6 466.1 830.9 465.5 832.3 464.9C833.6 464.2 834.9 463.6 836.3 463.0C837.6 462.4 838.9 461.8 840.3 461.2C841.6 460.7 842.9 460.1 844.3 459.5C845.6 459.0 846.9 458.4 848.3 457.9C849.6 457.3 850.9 456.8 852.3 456.3C853.6 455.8 854.9 455.2 856.3 454.7C857.6 454.2 858.9 453.7 860.3 453.2C861.6 452.8 862.9 452.3 864.3 451.8C865.6 451.3 867.0 450.8 868.3 450.4C869.6 449.9 871.0 449.5 872.3 449.0C873.6 448.6 875.0 448.1 876.3 447.7C877.6 447.2 879.0 446.8 880.3 446.4C881.6 446.0 883.0 445.5 884.3 445.1C885.6 444.7 887.0 444.3 888.3 443.9C889.6 443.5 891.0 443.1 892.3 442.7C893.6 442.3 895.0 441.9 896.3 441.5C897.6 441.1 898.9 441.2 900.3 440.3C902.7 438.8 906.1 434.9 908.2 431.5C910.5 427.8 911.6 422.8 913.4 418.6C915.1 414.6 916.1 409.9 918.5 407.1C920.6 404.7 923.6 402.2 926.2 402.0C928.7 401.8 931.5 403.8 933.9 405.8C936.8 408.2 939.1 412.5 941.6 416.1C944.2 419.8 946.4 424.7 949.3 427.6C951.7 430.0 954.8 431.7 957.0 432.8C958.5 433.6 959.7 433.8 961.1 434.2C962.5 434.7 963.8 435.2 965.2 435.6C966.6 436.0 967.9 436.5 969.3 436.9C970.7 437.3 972.0 437.7 973.4 438.1C974.8 438.5 976.1 438.9 977.5 439.2C978.9 439.6 980.2 439.9 981.6 440.3C983.0 440.6 984.3 441.0 985.7 441.3C987.1 441.6 988.4 441.9 989.8 442.2C991.2 442.5 992.5 442.8 993.9 443.1C995.3 443.3 996.6 443.6 998.0 443.9C999.4 444.1 1000.7 444.4 1002.1 444.6C1003.5 444.9 1004.8 445.1 1006.2 445.3C1007.6 445.5 1008.9 445.8 1010.3 446.0C1011.7 446.2 1013.0 446.4 1014.4 446.6C1015.8 446.8 1017.1 447.0 1018.5 447.1C1019.9 447.3 1021.2 447.5 1022.6 447.6C1024.0 447.8 1025.3 448.0 1026.7 448.1C1028.1 448.3 1029.4 448.4 1030.8 448.6C1032.2 448.7 1033.5 448.9 1034.9 449.0C1036.3 449.1 1037.6 449.2 1039.0 449.4C1040.4 449.5 1041.7 449.6 1043.1 449.7C1044.5 449.8 1045.8 450.0 1047.2 450.1C1048.6 450.2 1049.9 450.3 1051.3 450.4C1052.7 450.5 1054.0 450.6 1055.4 450.7C1056.8 450.8 1058.1 450.9 1059.5 451.0C1060.9 451.1 1062.2 451.2 1063.6 451.3C1065.0 451.4 1066.3 451.4 1067.7 451.5C1069.1 451.6 1070.4 451.7 1071.8 451.8C1073.2 451.9 1074.5 452.0 1075.9 452.1C1077.3 452.2 1078.6 452.3 1080.0 452.4C1081.4 452.4 1082.7 452.5 1084.1 452.6C1085.5 452.7 1086.8 452.8 1088.2 452.9C1089.6 453.0 1090.9 453.1 1092.3 453.2C1093.7 453.3 1095.0 453.4 1096.4 453.5C1097.8 453.6 1099.1 453.8 1100.5 453.9C1101.9 454.0 1103.2 454.1 1104.6 454.2C1106.0 454.3 1107.3 454.5 1108.7 454.6C1110.1 454.7 1111.5 454.3 1112.8 455.0C1114.6 456.0 1115.7 460.9 1117.6 461.2C1119.4 461.5 1121.9 457.8 1123.8 457.2C1125.2 456.7 1126.5 457.0 1127.9 456.9C1129.3 456.9 1130.6 456.8 1132.0 456.7C1133.4 456.7 1134.7 456.6 1136.1 456.6C1137.4 456.5 1138.8 456.5 1140.2 456.4C1141.5 456.4 1142.9 456.4 1144.3 456.4C1145.6 456.3 1147.0 456.3 1148.4 456.3C1149.7 456.3 1151.1 456.3 1152.5 456.3C1153.8 456.3 1155.2 456.3 1156.6 456.3C1157.9 456.3 1159.3 456.3 1160.7 456.3C1162.0 456.3 1163.4 456.3 1164.7 456.4C1166.1 456.4 1167.5 456.4 1168.8 456.4C1170.2 456.5 1171.6 456.5 1172.9 456.5C1174.3 456.6 1175.7 456.6 1177.0 456.6C1178.4 456.7 1179.8 456.7 1181.1 456.8C1182.5 456.8 1183.9 456.9 1185.2 456.9C1186.6 457.0 1187.9 457.0 1189.3 457.1C1190.7 457.1 1192.0 457.2 1193.4 457.2C1194.8 457.3 1196.1 457.4 1197.5 457.4C1198.9 457.5 1200.2 457.6 1201.6 457.6C1203.0 457.7 1204.3 457.7 1205.7 457.8C1207.1 457.9 1208.4 457.9 1209.8 458.0C1211.1 458.1 1212.5 458.1 1213.9 458.2C1215.2 458.2 1216.6 458.3 1218.0 458.4C1219.3 458.4 1220.7 458.5 1222.1 458.6C1223.4 458.6 1224.8 458.7 1226.2 458.7C1227.5 458.8 1228.9 458.8 1230.3 458.9C1231.6 459.0 1233.0 459.0 1234.3 459.1C1235.7 459.1 1237.1 459.2 1238.4 459.2C1239.8 459.3 1241.2 459.3 1242.5 459.3C1243.9 459.4 1245.3 459.4 1246.6 459.5C1248.0 459.5 1249.4 459.5 1250.7 459.6C1252.1 459.6 1253.5 459.6 1254.8 459.6C1256.2 459.7 1257.6 459.7 1258.9 459.7C1260.3 459.7 1261.6 459.7 1263.0 459.7C1264.4 459.7 1265.7 459.7 1267.1 459.7C1268.5 459.7 1269.8 459.4 1271.2 459.7C1272.8 460.0 1274.3 461.7 1276.0 461.7C1277.9 461.7 1280.3 459.9 1282.2 459.4C1283.7 459.0 1284.9 458.8 1286.3 458.6C1287.6 458.3 1289.0 458.1 1290.4 457.9C1291.7 457.7 1293.1 457.5 1294.4 457.3C1295.8 457.1 1297.2 456.9 1298.5 456.8C1299.9 456.6 1301.2 456.5 1302.6 456.4C1304.0 456.3 1305.3 456.1 1306.7 456.0C1308.0 455.9 1309.4 455.9 1310.8 455.8C1312.1 455.7 1313.5 455.6 1314.8 455.6C1316.2 455.5 1317.6 455.4 1318.9 455.4C1320.3 455.4 1321.6 455.3 1323.0 455.3C1324.4 455.2 1325.7 455.2 1327.1 455.2C1328.4 455.1 1329.8 455.1 1331.2 455.1C1332.5 455.1 1333.9 455.0 1335.3 455.0C1336.6 455.0 1338.0 455.0 1339.3 454.9C1340.7 454.9 1342.1 454.9 1343.4 454.9C1344.8 454.8 1346.1 454.8 1347.5 454.7C1348.9 454.7 1350.2 454.7 1351.6 454.6C1352.9 454.6 1354.3 454.5 1355.7 454.4C1357.0 454.4 1358.4 454.3 1359.7 454.2C1361.1 454.1 1362.5 454.0 1363.8 453.9C1365.2 453.8 1366.5 453.7 1367.9 453.5C1369.3 453.4 1370.6 453.3 1372.0 453.1C1373.3 452.9 1374.7 452.8 1376.1 452.6C1377.4 452.4 1378.8 452.2 1380.1 451.9C1381.5 451.7 1382.9 451.4 1384.2 451.2C1385.6 450.9 1386.9 450.6 1388.3 450.3C1389.7 450.0 1391.0 449.7 1392.4 449.3C1393.7 449.0 1395.1 448.6 1396.5 448.2C1397.8 447.8 1399.2 447.4 1400.5 446.9C1401.9 446.4 1403.3 446.0 1404.6 445.5C1406.0 444.9 1407.4 444.4 1408.7 443.8C1410.1 443.3 1411.4 442.7 1412.8 442.1C1414.2 441.4 1415.5 440.8 1416.9 440.1C1418.2 439.4 1419.6 438.7 1420.9 437.9C1422.3 437.1 1423.7 436.3 1425.0 435.5C1426.4 434.7 1427.8 433.8 1429.1 432.9C1430.5 432.0 1431.8 431.0 1433.2 430.1C1434.6 429.1 1435.9 428.1 1437.3 427.0C1438.6 425.9 1440.0 424.8 1441.4 423.7C1442.7 422.5 1444.1 421.3 1445.4 420.1C1446.8 418.9 1448.2 417.6 1449.5 416.3C1450.9 414.9 1452.2 413.5 1453.6 412.1C1455.0 410.7 1456.3 409.2 1457.7 407.7C1459.0 406.2 1460.4 404.6 1461.8 403.0C1463.1 401.4 1464.5 399.7 1465.8 398.0C1467.2 396.3 1468.6 394.5 1469.9 392.7C1471.3 390.8 1472.3 389.5 1474.0 387.0C1477.2 382.2 1482.0 370.5 1487.1 365.9C1491.0 362.3 1495.8 360.2 1500.3 359.4C1504.6 358.6 1510.0 360.5 1513.4 360.7C1515.5 360.8 1516.8 360.0 1518.6 360.7C1521.4 361.7 1524.3 367.9 1527.9 368.6C1531.8 369.3 1537.5 365.5 1541.6 363.8C1545.1 362.3 1548.4 359.7 1550.9 359.1C1552.5 358.7 1553.6 359.1 1554.9 359.0C1556.3 358.9 1557.6 358.9 1559.0 358.8C1560.3 358.7 1561.7 358.6 1563.0 358.4C1564.4 358.3 1565.7 358.1 1567.1 358.0C1568.4 357.8 1569.8 357.6 1571.1 357.4C1572.4 357.2 1573.8 357.0 1575.1 356.8C1576.5 356.5 1577.8 356.3 1579.2 356.0C1580.5 355.8 1581.9 355.5 1583.2 355.2C1584.6 354.9 1585.9 354.6 1587.3 354.3C1588.6 353.9 1589.9 353.6 1591.3 353.2C1592.6 352.9 1594.0 352.5 1595.3 352.2C1596.7 351.8 1598.0 351.4 1599.4 351.0C1600.7 350.6 1602.1 350.2 1603.4 349.8C1604.8 349.4 1606.1 348.9 1607.4 348.5C1608.8 348.0 1610.1 347.6 1611.5 347.1C1612.8 346.7 1614.2 346.2 1615.5 345.7C1616.9 345.3 1618.2 344.8 1619.6 344.3C1620.9 343.8 1622.3 343.3 1623.6 342.8C1625.0 342.3 1626.3 341.7 1627.6 341.2C1629.0 340.7 1630.3 340.2 1631.7 339.6C1633.0 339.1 1634.4 338.6 1635.7 338.0C1637.1 337.5 1638.4 336.9 1639.8 336.4C1641.1 335.8 1642.5 335.7 1643.8 334.7C1645.5 333.4 1646.5 329.9 1648.5 328.9C1650.4 327.9 1653.5 329.1 1655.4 328.5C1657.0 328.0 1658.1 326.7 1659.5 325.8C1660.9 324.8 1662.3 323.8 1663.6 322.8C1665.0 321.8 1666.4 320.8 1667.7 319.8C1669.1 318.7 1670.5 317.6 1671.9 316.5C1673.2 315.4 1674.6 314.3 1676.0 313.2C1677.3 312.1 1678.7 310.9 1680.1 309.7C1681.5 308.6 1682.8 307.4 1684.2 306.2C1685.6 305.0 1686.9 303.8 1688.3 302.6C1689.7 301.4 1691.0 300.2 1692.4 299.0C1693.8 297.8 1695.2 296.6 1696.5 295.3C1697.9 294.1 1699.3 292.9 1700.6 291.7C1702.0 290.5 1703.4 289.3 1704.8 288.1C1706.1 286.8 1707.5 285.6 1708.9 284.5C1710.2 283.3 1711.6 282.1 1713.0 280.9C1714.4 279.8 1715.7 278.6 1717.1 277.5C1718.5 276.4 1719.8 275.2 1721.2 274.1C1722.6 273.0 1723.9 272.0 1725.3 270.9C1726.7 269.9 1728.1 268.8 1729.4 267.8C1730.8 266.8 1732.2 265.9 1733.5 264.9C1734.9 264.0 1736.3 263.1 1737.7 262.2C1739.0 261.3 1740.4 260.5 1741.8 259.7C1743.1 258.9 1744.5 258.1 1745.9 257.4C1747.2 256.6 1748.5 256.2 1750.0 255.3C1751.9 254.2 1754.1 252.4 1756.1 251.1C1758.1 249.8 1760.1 248.2 1762.1 247.5C1763.8 246.9 1765.3 247.5 1767.0 246.9C1769.2 246.1 1771.7 243.4 1774.2 242.6C1776.5 241.8 1779.3 241.8 1781.5 242.0C1783.3 242.1 1784.7 242.6 1786.3 243.2C1788.0 243.8 1789.9 245.9 1791.2 245.7C1792.2 245.5 1792.6 243.2 1793.6 243.2C1795.2 243.3 1798.0 250.5 1799.7 250.5C1801.1 250.5 1801.8 246.0 1803.3 245.7C1804.7 245.4 1806.7 248.5 1808.1 248.1C1809.6 247.7 1810.5 242.5 1811.8 242.6C1813.4 242.7 1814.8 251.6 1816.6 251.7C1818.4 251.8 1820.9 246.7 1822.7 243.2C1825.1 238.4 1826.7 225.1 1828.7 225.1C1830.9 225.1 1832.6 245.4 1835.4 245.7C1838.0 246.0 1841.3 233.9 1844.5 229.9C1846.8 227.0 1849.5 223.0 1851.7 223.3C1854.4 223.7 1856.1 235.9 1859.0 236.0C1862.4 236.2 1867.7 221.7 1871.1 219.0C1872.7 217.7 1874.2 216.7 1875.4 217.2C1877.0 217.8 1877.5 224.8 1879.0 225.1C1880.2 225.4 1881.9 221.0 1883.2 221.4C1885.9 222.1 1887.5 243.1 1890.5 243.2C1894.1 243.4 1900.6 212.6 1903.8 213.0C1907.1 213.4 1907.5 248.0 1909.9 248.1C1912.2 248.2 1915.5 216.6 1917.8 216.6C1919.4 216.6 1920.5 232.3 1922.0 232.3C1924.2 232.2 1927.3 197.1 1929.3 197.2C1931.1 197.2 1931.9 225.1 1933.5 225.1C1935.1 225.1 1937.2 198.4 1939.0 198.4C1940.6 198.4 1942.3 219.0 1943.8 219.0C1945.7 218.9 1947.4 187.5 1949.2 187.5C1950.8 187.5 1952.4 214.1 1954.1 214.2C1955.4 214.3 1957.0 199.0 1958.3 199.0C1959.6 199.0 1960.9 214.2 1962.0 214.2C1963.2 214.1 1963.9 201.6 1965.0 194.8C1966.3 187.2 1967.0 177.6 1969.2 170.6C1971.1 164.8 1973.9 155.8 1976.5 155.4C1978.4 155.1 1981.0 158.8 1982.6 162.1C1985.3 167.6 1985.4 179.0 1986.8 187.5"/>
<path stroke="#3aaf6e" d="M148.0 983.0C148.7 928.3 147.8 819.1 150.0 819.0C152.0 818.9 154.0 949.0 159.6 950.0C161.6 950.4 164.0 939.6 166.4 935.0C168.5 931.0 170.4 927.7 173.0 924.0C176.1 919.7 181.2 913.9 184.0 910.8C185.6 909.0 186.7 908.1 188.0 906.8C189.3 905.4 190.7 904.1 192.0 902.8C193.3 901.5 194.7 900.2 196.0 899.0C197.3 897.7 198.7 896.4 200.0 895.1C201.3 893.9 202.7 892.6 204.0 891.4C205.3 890.2 206.7 889.0 208.0 887.7C209.3 886.5 210.7 885.3 212.0 884.1C213.4 882.9 214.7 881.8 216.0 880.6C217.4 879.4 218.7 878.2 220.0 877.1C221.4 875.9 222.7 874.8 224.0 873.7C225.4 872.5 226.7 871.4 228.0 870.3C229.4 869.2 230.7 868.1 232.0 867.0C233.4 865.9 234.7 864.8 236.0 863.7C237.4 862.6 238.7 861.6 240.0 860.5C241.4 859.4 242.7 858.4 244.0 857.3C245.4 856.3 246.7 855.2 248.0 854.2C249.4 853.2 250.7 852.2 252.0 851.1C253.4 850.1 254.7 849.1 256.1 848.1C257.4 847.1 258.7 846.1 260.1 845.1C261.4 844.2 262.7 843.2 264.1 842.2C265.4 841.2 266.7 840.3 268.1 839.3C269.4 838.4 270.7 837.4 272.1 836.5C273.4 835.5 274.7 834.6 276.1 833.6C277.4 832.7 278.7 831.8 280.1 830.9C281.4 829.9 282.7 829.0 284.1 828.1C285.4 827.2 286.7 826.3 288.1 825.4C289.4 824.5 290.7 823.6 292.1 822.7C293.4 821.8 294.7 820.9 296.1 820.1C297.4 819.2 298.7 818.3 300.1 817.4C301.4 816.6 302.7 815.7 304.1 814.8C305.4 814.0 306.8 813.1 308.1 812.3C309.4 811.4 310.8 810.6 312.1 809.7C313.4 808.9 314.8 808.0 316.1 807.2C317.4 806.4 318.8 805.5 320.1 804.7C321.4 803.9 322.8 803.0 324.1 802.2C325.4 801.4 326.8 800.5 328.1 799.7C329.4 798.9 330.8 798.1 332.1 797.3C333.4 796.5 334.8 795.6 336.1 794.8C337.4 794.0 338.8 793.2 340.1 792.4C341.4 791.6 342.8 790.8 344.1 790.0C345.4 789.2 346.8 788.4 348.1 787.6C349.4 786.8 350.8 786.0 352.1 785.2C353.5 784.4 354.8 783.6 356.1 782.8C357.5 782.0 358.8 781.2 360.1 780.4C361.5 779.6 362.8 778.8 364.1 778.0C365.5 777.2 366.8 776.4 368.1 775.6C369.5 774.8 370.8 774.0 372.1 773.2C373.5 772.4 374.8 771.6 376.1 770.8C377.5 770.0 378.8 769.2 380.1 768.4C381.5 767.6 382.8 766.8 384.1 766.0C385.5 765.2 386.8 764.4 388.1 763.6C389.5 762.8 390.8 762.0 392.1 761.2C393.5 760.4 394.8 759.6 396.1 758.8C397.5 758.0 398.8 757.2 400.2 756.4C401.5 755.6 402.8 754.7 404.2 753.9C405.5 753.1 406.8 752.3 408.2 751.5C409.5 750.6 410.8 749.8 412.2 749.0C413.5 748.2 414.8 747.3 416.2 746.5C417.5 745.7 418.8 744.8 420.2 744.0C421.5 743.1 422.8 742.3 424.2 741.5C425.5 740.6 426.8 739.8 428.2 738.9C429.5 738.0 430.8 737.2 432.2 736.3C433.5 735.5 434.8 734.6 436.2 733.7C437.5 732.8 438.8 732.0 440.2 731.1C441.5 730.2 442.8 729.3 444.2 728.5C445.5 727.6 446.9 726.7 448.2 725.8C449.5 724.9 450.9 724.0 452.2 723.1C453.5 722.2 454.9 721.3 456.2 720.4C457.5 719.5 458.9 718.6 460.2 717.6C461.5 716.7 462.9 715.8 464.2 714.9C465.5 713.9 466.9 713.0 468.2 712.1C469.5 711.1 470.9 710.2 472.2 709.3C473.5 708.3 474.9 707.4 476.2 706.4C477.5 705.5 478.9 704.5 480.2 703.5C481.5 702.6 482.9 701.6 484.2 700.6C485.5 699.7 486.9 698.7 488.2 697.7C489.5 696.7 490.9 695.7 492.2 694.7C493.6 693.8 494.9 692.8 496.2 691.8C497.6 690.8 498.9 689.8 500.2 688.7C501.6 687.7 502.9 686.7 504.2 685.7C505.6 684.7 506.9 683.6 508.2 682.6C509.6 681.6 510.9 680.6 512.2 679.5C513.6 678.5 514.9 677.4 516.2 676.4C517.6 675.3 518.9 674.2 520.2 673.2C521.6 672.1 522.9 671.0 524.2 669.9C525.6 668.8 526.9 667.8 528.2 666.6C529.6 665.5 530.9 664.4 532.2 663.3C533.6 662.2 534.9 661.1 536.2 659.9C537.6 658.8 538.9 657.6 540.2 656.5C541.6 655.3 542.9 654.1 544.3 653.0C545.6 651.8 546.9 650.6 548.3 649.4C549.6 648.2 550.9 647.0 552.3 645.8C553.6 644.5 554.9 643.3 556.3 642.1C557.6 640.8 558.9 639.6 560.3 638.3C561.6 637.0 562.9 635.8 564.3 634.5C565.6 633.2 566.9 631.9 568.3 630.6C569.6 629.4 570.9 628.1 572.3 626.8C573.6 625.5 574.9 624.2 576.3 622.9C577.6 621.6 578.9 620.3 580.3 618.9C581.6 617.6 582.9 616.3 584.3 615.0C585.6 613.7 586.9 612.4 588.3 611.1C589.6 609.7 591.0 608.4 592.3 607.1C593.6 605.8 595.0 604.5 596.3 603.1C597.6 601.8 599.0 600.5 600.3 599.1C601.6 597.8 603.0 596.4 604.3 595.1C605.6 593.7 607.0 592.3 608.3 590.9C609.6 589.6 611.0 588.2 612.3 586.8C613.6 585.3 615.0 583.9 616.3 582.5C617.6 581.1 619.0 579.6 620.3 578.2C621.6 576.7 623.0 575.2 624.3 573.7C625.6 572.3 627.0 570.8 628.3 569.2C629.6 567.7 631.0 566.2 632.3 564.7C633.7 563.1 635.0 561.6 636.3 560.0C637.7 558.5 639.0 556.9 640.3 555.3C641.7 553.7 643.0 552.1 644.3 550.5C645.7 548.9 647.0 547.2 648.3 545.6C649.7 544.0 651.0 542.3 652.3 540.7C653.7 539.0 655.0 537.3 656.3 535.6C657.7 533.9 659.0 532.2 660.3 530.5C661.7 528.8 663.0 527.1 664.3 525.4C665.7 523.6 667.0 521.9 668.3 520.1C669.7 518.4 671.0 516.6 672.3 514.8C673.7 513.0 675.0 511.2 676.3 509.4C677.7 507.6 679.0 505.8 680.3 504.0C681.7 502.1 683.0 500.3 684.3 498.5C685.7 496.6 687.0 494.7 688.4 492.9C689.7 491.0 691.0 489.1 692.4 487.2C693.7 485.3 695.0 483.4 696.4 481.5C697.7 479.6 699.0 477.7 700.4 475.8C701.7 473.9 703.0 472.0 704.4 470.1C705.7 468.2 707.0 466.3 708.4 464.4C709.7 462.5 711.0 460.6 712.4 458.7C713.7 456.8 715.0 454.9 716.4 453.0C717.7 451.1 719.0 449.3 720.4 447.4C721.7 445.5 723.0 443.7 724.4 441.8C725.7 440.0 727.0 438.2 728.4 436.3C729.7 434.5 731.0 432.7 732.4 430.9C733.7 429.1 735.0 427.4 736.4 425.6C737.7 423.9 739.0 422.1 740.4 420.4C741.7 418.7 743.1 417.0 744.4 415.4C745.7 413.7 747.1 412.1 748.4 410.4C749.7 408.8 751.1 407.2 752.4 405.7C753.7 404.1 755.1 402.6 756.4 401.1C757.7 399.6 759.1 398.1 760.4 396.7C761.7 395.2 763.1 393.8 764.4 392.5C765.7 391.1 767.1 389.8 768.4 388.4C769.7 387.2 771.1 385.9 772.4 384.6C773.7 383.4 775.1 382.2 776.4 381.0C777.7 379.9 779.1 378.7 780.4 377.6C781.7 376.5 783.1 375.4 784.4 374.4C785.7 373.3 787.1 372.3 788.4 371.4C789.7 370.4 791.1 369.4 792.4 368.5C793.8 367.6 795.1 366.7 796.4 365.9C797.8 365.0 799.1 364.2 800.4 363.4C801.8 362.7 803.1 361.9 804.4 361.2C805.8 360.5 807.1 359.8 808.4 359.1C809.8 358.5 811.1 357.8 812.4 357.3C813.8 356.7 815.1 356.1 816.4 355.6C817.8 355.0 819.1 354.5 820.4 354.1C821.8 353.6 823.1 353.2 824.4 352.7C825.8 352.3 827.1 352.0 828.4 351.6C829.8 351.3 831.1 351.0 832.5 350.7C833.8 350.4 835.1 350.1 836.5 349.9C837.8 349.7 839.1 349.5 840.5 349.3C841.8 349.1 843.1 349.0 844.5 348.9C845.8 348.8 847.1 348.7 848.5 348.6C849.8 348.5 851.1 348.5 852.5 348.4C853.8 348.4 855.1 348.4 856.5 348.4C857.8 348.3 859.1 348.4 860.5 348.4C861.8 348.4 863.1 348.4 864.5 348.5C865.8 348.5 867.1 348.6 868.5 348.6C869.8 348.7 871.1 348.7 872.5 348.8C873.8 348.9 875.1 349.0 876.5 349.0C877.8 349.1 879.2 349.2 880.5 349.2C881.8 349.3 883.2 349.4 884.5 349.4C885.8 349.5 887.2 349.6 888.5 349.6C889.8 349.7 891.2 349.7 892.5 349.7C893.8 349.8 895.2 349.8 896.5 349.8C897.8 349.8 899.0 350.0 900.5 349.8C902.7 349.5 906.1 348.9 908.2 347.3C910.5 345.5 911.9 342.6 913.4 339.1C915.6 333.9 916.6 324.7 918.5 318.5C920.1 313.3 921.0 307.7 923.6 304.4C925.6 301.8 928.7 299.4 931.3 299.3C933.8 299.2 937.0 301.3 939.0 303.6C941.5 306.4 942.6 311.5 944.2 315.9C946.0 320.7 947.2 326.2 949.3 331.3C951.5 336.5 953.7 342.6 957.0 346.8C959.9 350.5 963.7 353.2 967.3 355.7C970.6 358.1 974.1 359.9 977.6 361.6C981.0 363.3 985.0 364.4 987.8 366.0C989.9 367.2 991.7 367.9 993.0 369.9C994.9 372.8 994.3 382.8 996.0 383.2C997.2 383.5 998.9 378.7 1000.7 377.6C1002.2 376.6 1004.2 376.3 1005.8 376.3C1007.2 376.3 1008.5 377.1 1009.8 377.5C1011.1 378.0 1012.5 378.4 1013.8 378.8C1015.2 379.2 1016.5 379.6 1017.8 380.0C1019.2 380.4 1020.5 380.8 1021.8 381.2C1023.2 381.6 1024.5 382.0 1025.8 382.4C1027.2 382.8 1028.5 383.2 1029.9 383.6C1031.2 384.0 1032.5 384.4 1033.9 384.8C1035.2 385.1 1036.5 385.5 1037.9 385.9C1039.2 386.3 1040.6 386.7 1041.9 387.0C1043.2 387.4 1044.6 387.8 1045.9 388.1C1047.2 388.5 1048.6 388.9 1049.9 389.2C1051.2 389.6 1052.6 389.9 1053.9 390.3C1055.3 390.6 1056.6 391.0 1057.9 391.3C1059.3 391.7 1060.6 392.0 1061.9 392.4C1063.3 392.7 1064.6 393.0 1065.9 393.4C1067.3 393.7 1068.6 394.0 1070.0 394.4C1071.3 394.7 1072.6 395.0 1074.0 395.3C1075.3 395.7 1076.6 396.0 1078.0 396.3C1079.3 396.6 1080.6 396.9 1082.0 397.2C1083.3 397.5 1084.7 397.8 1086.0 398.1C1087.3 398.4 1088.7 398.7 1090.0 399.0C1091.3 399.3 1092.7 399.6 1094.0 399.9C1095.4 400.2 1096.7 400.5 1098.0 400.8C1099.4 401.1 1100.7 401.3 1102.0 401.6C1103.4 401.9 1104.7 402.2 1106.0 402.4C1107.4 402.7 1108.7 403.0 1110.1 403.2C1111.4 403.5 1112.7 403.7 1114.1 404.0C1115.4 404.3 1116.7 404.5 1118.1 404.8C1119.4 405.0 1120.7 405.3 1122.1 405.5C1123.4 405.7 1124.8 406.0 1126.1 406.2C1127.4 406.4 1128.8 406.7 1130.1 406.9C1131.4 407.1 1132.8 407.4 1134.1 407.6C1135.5 407.8 1136.8 408.0 1138.1 408.2C1139.5 408.4 1140.8 408.7 1142.1 408.9C1143.5 409.1 1144.8 409.3 1146.1 409.5C1147.5 409.7 1148.8 409.9 1150.2 410.1C1151.5 410.3 1152.8 410.4 1154.2 410.6C1155.5 410.8 1156.8 411.0 1158.2 411.2C1159.5 411.3 1160.8 411.5 1162.2 411.7C1163.5 411.9 1164.9 412.0 1166.2 412.2C1167.5 412.4 1168.9 412.5 1170.2 412.7C1171.5 412.8 1172.9 413.0 1174.2 413.1C1175.5 413.3 1176.9 413.4 1178.2 413.6C1179.6 413.7 1180.9 413.8 1182.2 414.0C1183.6 414.1 1184.9 414.2 1186.2 414.4C1187.6 414.5 1188.9 414.6 1190.3 414.7C1191.6 414.8 1192.9 415.0 1194.3 415.1C1195.6 415.2 1196.9 415.3 1198.3 415.4C1199.6 415.5 1200.9 415.6 1202.3 415.7C1203.6 415.8 1205.0 415.9 1206.3 416.0C1207.6 416.0 1209.0 416.1 1210.3 416.2C1211.6 416.3 1213.0 416.4 1214.3 416.4C1215.6 416.5 1217.0 416.6 1218.3 416.6C1219.7 416.7 1221.0 416.8 1222.3 416.8C1223.7 416.9 1225.0 416.9 1226.3 417.0C1227.7 417.0 1229.0 417.1 1230.4 417.1C1231.7 417.1 1233.0 417.2 1234.4 417.2C1235.7 417.2 1237.0 417.3 1238.4 417.3C1239.7 417.3 1241.0 417.3 1242.4 417.3C1243.7 417.4 1245.1 417.4 1246.4 417.4C1247.7 417.4 1249.1 417.4 1250.4 417.4C1251.7 417.4 1253.1 417.4 1254.4 417.4C1255.7 417.4 1257.1 417.3 1258.4 417.3C1259.8 417.3 1261.1 417.3 1262.4 417.3C1263.8 417.2 1265.1 417.2 1266.4 417.2C1267.8 417.1 1269.1 417.1 1270.4 417.0C1271.8 417.0 1273.1 417.0 1274.5 416.9C1275.8 416.8 1277.1 416.8 1278.5 416.7C1279.8 416.7 1281.1 416.6 1282.5 416.5C1283.8 416.5 1285.2 416.4 1286.5 416.3C1287.8 416.2 1289.2 416.2 1290.5 416.1C1291.8 416.0 1293.2 415.9 1294.5 415.8C1295.8 415.7 1297.2 415.6 1298.5 415.5C1299.9 415.3 1301.2 415.2 1302.5 415.1C1303.9 415.0 1305.2 414.9 1306.5 414.7C1307.9 414.6 1309.2 414.4 1310.5 414.3C1311.9 414.1 1313.2 414.0 1314.6 413.8C1315.9 413.6 1317.2 413.5 1318.6 413.3C1319.9 413.1 1321.2 412.9 1322.6 412.7C1323.9 412.5 1325.3 412.3 1326.6 412.1C1327.9 411.9 1329.3 411.7 1330.6 411.4C1331.9 411.2 1333.3 411.0 1334.6 410.7C1335.9 410.5 1337.3 410.2 1338.6 410.0C1340.0 409.7 1341.3 409.4 1342.6 409.1C1344.0 408.8 1345.3 408.5 1346.6 408.2C1348.0 407.9 1349.3 407.6 1350.6 407.3C1352.0 406.9 1353.3 406.6 1354.7 406.3C1356.0 405.9 1357.3 405.5 1358.7 405.2C1360.0 404.8 1361.3 404.4 1362.7 404.0C1364.0 403.6 1365.4 403.2 1366.7 402.8C1368.0 402.4 1369.4 401.9 1370.7 401.5C1372.0 401.0 1373.4 400.6 1374.7 400.1C1376.0 399.6 1377.4 399.2 1378.7 398.7C1380.1 398.2 1381.4 397.7 1382.7 397.1C1384.1 396.6 1385.4 396.1 1386.7 395.5C1388.1 395.0 1389.4 394.4 1390.7 393.8C1392.1 393.2 1393.4 392.7 1394.8 392.0C1396.1 391.4 1397.4 390.8 1398.8 390.2C1400.1 389.5 1401.4 388.9 1402.8 388.2C1404.1 387.5 1405.5 386.9 1406.8 386.2C1408.1 385.5 1409.5 384.7 1410.8 384.0C1412.1 383.3 1413.5 382.5 1414.8 381.8C1416.1 381.0 1417.5 380.2 1418.8 379.4C1420.2 378.6 1421.5 377.8 1422.8 377.0C1424.2 376.1 1425.5 375.3 1426.8 374.4C1428.2 373.6 1429.5 372.7 1430.8 371.8C1432.2 370.9 1433.5 369.9 1434.9 369.0C1436.2 368.1 1437.5 367.1 1438.9 366.1C1440.2 365.1 1441.5 364.1 1442.9 363.1C1444.2 362.1 1445.6 361.1 1446.9 360.0C1448.2 358.9 1449.6 357.9 1450.9 356.8C1452.2 355.7 1453.6 354.5 1454.9 353.4C1456.2 352.2 1457.6 351.1 1458.9 349.9C1460.3 348.7 1461.6 347.5 1462.9 346.3C1464.3 345.0 1465.6 343.8 1466.9 342.5C1468.3 341.2 1469.6 339.9 1470.9 338.6C1472.3 337.3 1473.6 335.9 1475.0 334.5C1476.3 333.2 1477.6 331.8 1479.0 330.4C1480.3 328.9 1481.6 327.5 1483.0 326.0C1484.3 324.5 1485.7 323.0 1487.0 321.5C1488.3 320.0 1489.7 318.4 1491.0 316.9C1492.3 315.3 1493.7 313.9 1495.0 312.0C1496.7 309.5 1498.2 305.9 1500.3 302.9C1502.5 299.7 1505.5 295.3 1508.1 293.7C1509.9 292.6 1511.6 292.3 1513.4 292.3C1515.1 292.3 1516.8 293.6 1518.6 293.7C1520.3 293.8 1522.2 292.9 1523.9 293.1C1525.7 293.3 1527.6 295.2 1529.2 295.0C1530.7 294.8 1531.5 292.5 1533.1 292.3C1535.3 292.0 1538.9 295.3 1541.6 295.7C1544.0 296.1 1546.0 295.4 1548.6 295.2C1552.0 294.9 1557.5 292.6 1560.2 294.1C1562.8 295.5 1562.9 303.2 1564.8 303.4C1566.7 303.6 1569.5 296.4 1571.8 295.2C1573.2 294.5 1574.5 294.9 1575.9 294.8C1577.3 294.6 1578.6 294.5 1580.0 294.3C1581.4 294.2 1582.7 294.0 1584.1 293.9C1585.4 293.7 1586.8 293.5 1588.2 293.4C1589.5 293.2 1590.9 293.0 1592.3 292.8C1593.6 292.6 1595.0 292.4 1596.4 292.2C1597.7 292.1 1599.1 291.8 1600.5 291.6C1601.8 291.4 1603.2 291.2 1604.5 291.0C1605.9 290.8 1607.3 290.5 1608.6 290.3C1610.0 290.1 1611.4 289.8 1612.7 289.6C1614.1 289.3 1615.5 289.1 1616.8 288.8C1618.2 288.5 1619.6 288.2 1620.9 288.0C1622.3 287.7 1623.6 287.4 1625.0 287.1C1626.4 286.8 1627.7 286.5 1629.1 286.1C1630.5 285.8 1631.8 285.5 1633.2 285.1C1634.6 284.8 1635.9 284.5 1637.3 284.1C1638.7 283.7 1640.0 283.4 1641.4 283.0C1642.7 282.6 1644.1 282.2 1645.5 281.8C1646.8 281.4 1648.2 281.0 1649.6 280.6C1650.9 280.2 1652.3 279.8 1653.7 279.3C1655.0 278.9 1656.4 278.4 1657.8 278.0C1659.1 277.5 1660.5 277.0 1661.8 276.5C1663.2 276.0 1664.6 275.5 1665.9 275.0C1667.3 274.5 1668.7 274.0 1670.0 273.5C1671.4 272.9 1672.8 272.4 1674.1 271.8C1675.5 271.2 1676.9 270.7 1678.2 270.1C1679.6 269.5 1680.9 268.9 1682.3 268.3C1683.7 267.7 1685.0 267.0 1686.4 266.4C1687.8 265.7 1689.1 265.1 1690.5 264.4C1691.9 263.7 1693.2 263.1 1694.6 262.4C1696.0 261.6 1697.3 260.9 1698.7 260.2C1700.0 259.5 1701.4 258.7 1702.8 258.0C1704.1 257.2 1705.5 256.4 1706.9 255.6C1708.2 254.8 1709.6 254.0 1711.0 253.2C1712.3 252.4 1713.7 251.6 1715.0 250.7C1716.4 249.8 1717.8 249.0 1719.1 248.1C1720.5 247.2 1721.9 246.3 1723.2 245.4C1724.6 244.4 1726.0 243.5 1727.3 242.5C1728.7 241.6 1730.1 240.6 1731.4 239.6C1732.8 238.6 1734.2 237.6 1735.5 236.6C1736.9 235.6 1738.2 234.5 1739.6 233.4C1741.0 232.4 1742.2 231.3 1743.7 230.2C1745.5 228.9 1748.2 227.9 1750.0 226.3C1751.9 224.6 1752.8 221.0 1754.8 220.2C1756.7 219.5 1759.8 222.3 1761.5 221.4C1763.7 220.2 1763.6 212.8 1765.7 211.7C1767.3 210.9 1770.0 213.5 1771.8 213.0C1773.9 212.4 1775.2 208.2 1777.3 207.5C1779.3 206.9 1782.0 209.4 1783.9 208.7C1786.1 207.9 1787.6 202.4 1789.4 202.1C1790.6 201.9 1792.0 204.8 1793.0 204.5C1794.5 204.0 1795.1 196.2 1796.6 196.0C1798.1 195.8 1800.2 203.0 1802.1 203.3C1803.6 203.6 1805.5 199.9 1806.9 200.2C1808.5 200.6 1809.5 207.0 1810.6 206.9C1811.9 206.8 1812.8 200.3 1814.2 197.2C1815.6 194.2 1817.4 188.6 1819.0 188.7C1820.8 188.8 1821.8 198.9 1824.5 200.2C1826.6 201.2 1829.8 198.4 1832.4 198.4C1834.9 198.4 1837.8 201.1 1839.6 200.2C1841.8 199.0 1842.0 193.7 1843.3 189.9C1844.9 185.2 1846.2 174.3 1848.1 174.2C1850.2 174.1 1852.6 193.4 1855.4 193.6C1857.9 193.8 1861.5 179.1 1863.9 179.0C1865.5 178.9 1866.6 184.7 1868.1 185.1C1869.1 185.4 1870.2 183.4 1871.1 183.9C1873.7 185.3 1874.2 210.5 1876.0 210.5C1878.1 210.5 1880.7 183.4 1883.2 174.2C1884.8 168.4 1886.6 160.2 1888.1 160.3C1890.5 160.5 1891.7 198.4 1894.1 198.4C1897.0 198.4 1901.9 145.0 1904.4 145.1C1906.9 145.2 1906.9 195.3 1909.3 195.4C1911.9 195.5 1917.0 140.8 1919.6 140.9C1921.8 141.0 1921.2 178.7 1924.4 179.6C1926.0 180.0 1928.9 175.6 1930.5 171.8C1933.5 164.8 1933.7 138.5 1935.3 138.5C1936.8 138.5 1937.6 167.4 1939.6 167.5C1942.1 167.6 1947.4 119.0 1949.9 119.1C1952.4 119.2 1953.1 167.5 1954.7 167.5C1955.9 167.5 1957.1 141.5 1958.3 141.5C1959.4 141.5 1959.2 162.5 1961.4 163.3C1962.5 163.7 1964.5 161.9 1965.6 159.7C1968.5 154.2 1967.9 124.5 1969.2 124.5C1970.4 124.5 1971.6 153.6 1972.9 153.6C1974.2 153.6 1975.9 125.1 1977.1 125.1C1978.3 125.1 1979.1 154.8 1980.1 154.8C1981.1 154.8 1982.0 125.7 1983.2 125.7C1984.4 125.7 1985.2 153.3 1987.4 156.0C1987.9 156.7 1988.6 156.4 1989.2 156.6"/>
</g>
<g stroke="#000" stroke-width="5" stroke-dasharray="27.7 25.2">
<line x1="819.3" y1="351.8" x2="819.3" y2="1403"/>
<line x1="930.1" y1="307.5" x2="930.1" y2="1341.5"/>
<line x1="1519.3" y1="292.3" x2="1519.3" y2="1403"/>
</g>
<g stroke="#000" stroke-width="5" fill="none">
<rect x="144.5" y="28.7" width="1847.5" height="1374.6"/>
<line x1="144.5" y1="1403.3" x2="144.5" y2="1377.3"/><line x1="276.5" y1="1403.3" x2="276.5" y2="1390.3"/><line x1="408.4" y1="1403.3" x2="408.4" y2="1377.3"/><line x1="540.4" y1="1403.3" x2="540.4" y2="1390.3"/><line x1="672.4" y1="1403.3" x2="672.4" y2="1377.3"/><line x1="804.3" y1="1403.3" x2="804.3" y2="1390.3"/><line x1="936.3" y1="1403.3" x2="936.3" y2="1377.3"/><line x1="1068.2" y1="1403.3" x2="1068.2" y2="1390.3"/><line x1="1200.2" y1="1403.3" x2="1200.2" y2="1377.3"/><line x1="1332.2" y1="1403.3" x2="1332.2" y2="1390.3"/><line x1="1464.1" y1="1403.3" x2="1464.1" y2="1377.3"/><line x1="1596.1" y1="1403.3" x2="1596.1" y2="1390.3"/><line x1="1728.1" y1="1403.3" x2="1728.1" y2="1377.3"/><line x1="1860.0" y1="1403.3" x2="1860.0" y2="1390.3"/><line x1="1992.0" y1="1403.3" x2="1992.0" y2="1377.3"/>
</g>
<g font-family="'Liberation Sans', Arial, sans-serif" font-weight="bold" font-size="64" fill="#000">
<text transform="translate(144.5 1483.6) scale(1 1.035)" text-anchor="middle">-50</text><text transform="translate(408.4 1483.6) scale(1 1.035)" text-anchor="middle">0</text><text transform="translate(672.4 1483.6) scale(1 1.035)" text-anchor="middle">50</text><text transform="translate(936.3 1483.6) scale(1 1.035)" text-anchor="middle">100</text><text transform="translate(1200.2 1483.6) scale(1 1.035)" text-anchor="middle">150</text><text transform="translate(1464.1 1483.6) scale(1 1.035)" text-anchor="middle">200</text><text transform="translate(1728.1 1483.6) scale(1 1.035)" text-anchor="middle">250</text><text transform="translate(1992.0 1483.6) scale(1 1.035)" text-anchor="middle">300</text>
<text transform="translate(340.2 173.4) scale(1 1.035)">Control</text>
<text transform="translate(340.2 255.2) scale(1 1.035)">THC2</text>
<text transform="translate(340.2 336.3) scale(1 1.035)">THC4</text>
<text transform="translate(340.2 417.6) scale(1 1.035)">THC6</text>
</g>
<g stroke-width="5" stroke-linecap="round">
<line x1="180" y1="151" x2="322.5" y2="151" stroke="#4f4f4f"/>
<line x1="180" y1="232" x2="322.5" y2="232" stroke="#ef4042"/>
<line x1="180" y1="313" x2="322.5" y2="313" stroke="#1b70de"/>
<line x1="180" y1="394.3" x2="322.5" y2="394.3" stroke="#3aaf6e"/>
</g>
<g font-family="'Liberation Sans', Arial, sans-serif" font-weight="bold" fill="#000">
<text transform="translate(783 1600.3) scale(1 1.04)" font-size="72" textLength="570" lengthAdjust="spacingAndGlyphs">Temperature (<tspan font-size="45" dy="-26">o</tspan><tspan dy="26">C)</tspan></text>
<text transform="translate(81.6 1269) rotate(-90) scale(1 1.04)" font-size="71" textLength="532" lengthAdjust="spacingAndGlyphs">Heat Flow (W/g)</text>
<text transform="translate(81.6 699.4) rotate(-90) scale(1 1.035)" font-size="64" textLength="387.2" lengthAdjust="spacingAndGlyphs">endothermic</text>
</g>
<g font-family="'Liberation Sans', Arial, sans-serif" fill="#000" font-size="70">
<text x="805" y="265.1">a</text>
<text x="924" y="255">b</text>
</g>
<line x1="71" y1="278.2" x2="71" y2="98" stroke="#000" stroke-width="5"/>
<path d="M71 55.1 L82 100.2 L59.7 100.2 Z" fill="#000"/>
</svg>
</body></html>
